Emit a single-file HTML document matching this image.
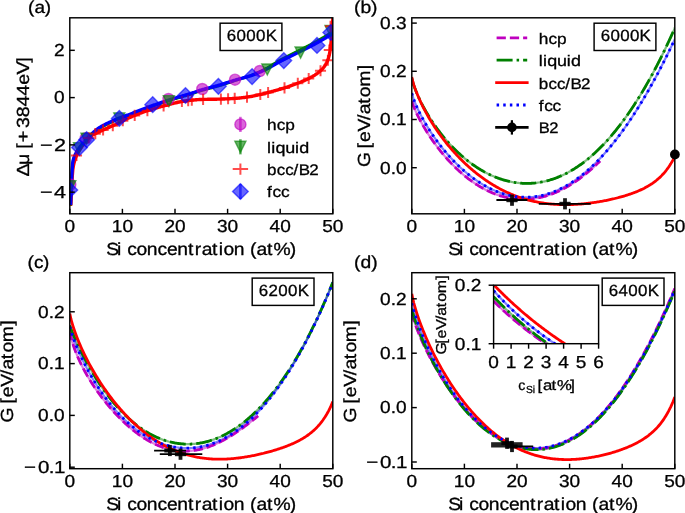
<!DOCTYPE html>
<html><head><meta charset="utf-8"><title>Figure</title>
<style>html,body{margin:0;padding:0;background:#fff;}body{width:685px;height:513px;overflow:hidden;}svg{display:block;will-change:transform;}text{font-family:"Liberation Sans",sans-serif;fill:#000;stroke:#000;stroke-width:0.3px;text-rendering:geometricPrecision;}</style>
</head><body>
<svg width="685" height="513" viewBox="0 0 685 513" font-family="Liberation Sans, sans-serif">
<rect width="685" height="513" fill="#fff"/>
<defs>
<clipPath id="clipA"><rect x="69.8" y="17.8" width="263.0" height="196.0"/></clipPath>
<clipPath id="clipB"><rect x="411.8" y="17.8" width="262.99999999999994" height="196.0"/></clipPath>
<clipPath id="clipC"><rect x="69.8" y="272.7" width="263.0" height="196.0"/></clipPath>
<clipPath id="clipD"><rect x="411.8" y="272.7" width="262.99999999999994" height="196.0"/></clipPath>
<clipPath id="clipI"><rect x="493.6" y="285.2" width="105.0" height="58.5"/></clipPath>
</defs>
<g clip-path="url(#clipA)">
<path d="M70.60,205.88 L71.26,189.48 L71.92,174.86 L72.58,164.47 L73.24,160.76 L73.89,158.54 L74.55,156.94 L75.21,155.44 L75.87,154.09 L76.53,152.89 L77.19,151.81 L77.85,150.80 L78.51,149.86 L79.17,148.93 L79.82,148.01 L80.48,147.13 L81.14,146.29 L81.80,145.48 L82.46,144.70 L83.12,143.93 L83.78,143.19 L84.44,142.46 L85.10,141.73 L85.75,141.00 L86.41,140.26 L87.07,139.52 L87.73,138.77 L88.39,138.03 L89.05,137.32 L89.71,136.64 L90.37,135.99 L91.03,135.35 L91.68,134.73 L92.34,134.11 L93.00,133.50 L93.66,132.91 L94.32,132.32 L94.98,131.76 L95.64,131.21 L96.30,130.67 L96.96,130.16 L97.61,129.66 L98.27,129.19 L98.93,128.74 L99.59,128.31 L100.25,127.90 L100.91,127.50 L101.57,127.11 L102.23,126.74 L102.89,126.37 L103.54,126.02 L104.20,125.67 L104.86,125.33 L105.52,125.00 L106.18,124.67 L106.84,124.34 L107.50,124.02 L108.16,123.69 L108.82,123.37 L109.47,123.06 L110.13,122.75 L110.79,122.44 L111.45,122.13 L112.11,121.83 L112.77,121.54 L113.43,121.25 L114.09,120.96 L114.75,120.67 L115.41,120.39 L116.06,120.11 L116.72,119.84 L117.38,119.57 L118.04,119.30 L118.70,119.03 L119.36,118.77 L120.02,118.52 L120.68,118.27 L121.34,118.03 L121.99,117.79 L122.65,117.55 L123.31,117.32 L123.97,117.10 L124.63,116.87 L125.29,116.64 L125.95,116.42 L126.61,116.19 L127.27,115.96 L127.92,115.72 L128.58,115.48 L129.24,115.24 L129.90,114.99 L130.56,114.73 L131.22,114.47 L131.88,114.21 L132.54,113.94 L133.20,113.68 L133.85,113.41 L134.51,113.14 L135.17,112.87 L135.83,112.61 L136.49,112.34 L137.15,112.08 L137.81,111.82 L138.47,111.56 L139.13,111.30 L139.78,111.05 L140.44,110.79 L141.10,110.54 L141.76,110.29 L142.42,110.04 L143.08,109.78 L143.74,109.53 L144.40,109.29 L145.06,109.04 L145.71,108.79 L146.37,108.54 L147.03,108.30 L147.69,108.05 L148.35,107.81 L149.01,107.57 L149.67,107.33 L150.33,107.08 L150.99,106.85 L151.64,106.61 L152.30,106.37 L152.96,106.13 L153.62,105.90 L154.28,105.66 L154.94,105.43 L155.60,105.20 L156.26,104.96 L156.92,104.73 L157.57,104.50 L158.23,104.27 L158.89,104.04 L159.55,103.81 L160.21,103.58 L160.87,103.35 L161.53,103.12 L162.19,102.90 L162.85,102.67 L163.50,102.44 L164.16,102.22 L164.82,102.00 L165.48,101.78 L166.14,101.56 L166.80,101.35 L167.46,101.14 L168.12,100.93 L168.78,100.72 L169.43,100.51 L170.09,100.30 L170.75,100.10 L171.41,99.90 L172.07,99.69 L172.73,99.49 L173.39,99.29 L174.05,99.09 L174.71,98.89 L175.36,98.69 L176.02,98.49 L176.68,98.29 L177.34,98.09 L178.00,97.90 L178.66,97.70 L179.32,97.51 L179.98,97.31 L180.64,97.12 L181.29,96.92 L181.95,96.73 L182.61,96.53 L183.27,96.34 L183.93,96.14 L184.59,95.95 L185.25,95.75 L185.91,95.56 L186.57,95.37 L187.22,95.17 L187.88,94.98 L188.54,94.78 L189.20,94.59 L189.86,94.39 L190.52,94.19 L191.18,93.99 L191.84,93.78 L192.50,93.57 L193.15,93.35 L193.81,93.12 L194.47,92.89 L195.13,92.66 L195.79,92.42 L196.45,92.18 L197.11,91.94 L197.77,91.70 L198.43,91.47 L199.08,91.25 L199.74,91.03 L200.40,90.83 L201.06,90.63 L201.72,90.43 L202.38,90.24 L203.04,90.05 L203.70,89.86 L204.36,89.68 L205.02,89.50 L205.67,89.32 L206.33,89.14 L206.99,88.97 L207.65,88.80 L208.31,88.63 L208.97,88.45 L209.63,88.28 L210.29,88.11 L210.95,87.94 L211.60,87.77 L212.26,87.60 L212.92,87.43 L213.58,87.25 L214.24,87.08 L214.90,86.90 L215.56,86.72 L216.22,86.54 L216.88,86.36 L217.53,86.17 L218.19,85.98 L218.85,85.79 L219.51,85.59 L220.17,85.39 L220.83,85.19 L221.49,84.98 L222.15,84.78 L222.81,84.57 L223.46,84.36 L224.12,84.15 L224.78,83.94 L225.44,83.72 L226.10,83.51 L226.76,83.30 L227.42,83.08 L228.08,82.87 L228.74,82.66 L229.39,82.45 L230.05,82.23 L230.71,82.00 L231.37,81.76 L232.03,81.53 L232.69,81.30 L233.35,81.07 L234.01,80.85 L234.67,80.62 L235.32,80.40 L235.98,80.19 L236.64,79.98 L237.30,79.77 L237.96,79.56 L238.62,79.36 L239.28,79.16 L239.94,78.96 L240.60,78.76 L241.25,78.56 L241.91,78.36 L242.57,78.16 L243.23,77.96 L243.89,77.76 L244.55,77.56 L245.21,77.36 L245.87,77.15 L246.53,76.94 L247.18,76.72 L247.84,76.51 L248.50,76.28 L249.16,76.06 L249.82,75.82 L250.48,75.59 L251.14,75.34 L251.80,75.09 L252.46,74.84 L253.11,74.57 L253.77,74.31 L254.43,74.04 L255.09,73.76 L255.75,73.48 L256.41,73.19 L257.07,72.90 L257.73,72.61 L258.39,72.31 L259.04,72.00 L259.70,71.70 L260.36,71.39 L261.02,71.07 L261.68,70.75 L262.34,70.43 L263.00,70.11 L263.66,69.78 L264.32,69.45 L264.97,69.11 L265.63,68.77 L266.29,68.42 L266.95,68.06 L267.61,67.70 L268.27,67.32 L268.93,66.94 L269.59,66.55 L270.25,66.16 L270.90,65.76 L271.56,65.36 L272.22,64.95 L272.88,64.55 L273.54,64.14 L274.20,63.73 L274.86,63.32 L275.52,62.91 L276.18,62.50 L276.83,62.10 L277.49,61.70 L278.15,61.30 L278.81,60.91 L279.47,60.52 L280.13,60.15 L280.79,59.79 L281.45,59.44 L282.11,59.10 L282.76,58.75 L283.42,58.41 L284.08,58.07 L284.74,57.73 L285.40,57.39 L286.06,57.05 L286.72,56.72 L287.38,56.38 L288.04,56.05 L288.69,55.72 L289.35,55.39 L290.01,55.06 L290.67,54.73 L291.33,54.40 L291.99,54.07 L292.65,53.73 L293.31,53.40 L293.97,53.07 L294.63,52.74 L295.28,52.40 L295.94,52.07 L296.60,51.73 L297.26,51.40 L297.92,51.07 L298.58,50.74 L299.24,50.40 L299.90,50.07 L300.56,49.75 L301.21,49.42 L301.87,49.09 L302.53,48.76 L303.19,48.43 L303.85,48.10 L304.51,47.77 L305.17,47.44 L305.83,47.10 L306.49,46.77 L307.14,46.43 L307.80,46.09 L308.46,45.75 L309.12,45.41 L309.78,45.06 L310.44,44.71 L311.10,44.36 L311.76,44.01 L312.42,43.65 L313.07,43.29 L313.73,42.93 L314.39,42.57 L315.05,42.20 L315.71,41.84 L316.37,41.47 L317.03,41.10 L317.69,40.73 L318.35,40.36 L319.00,39.99 L319.66,39.61 L320.32,39.24 L320.98,38.86 L321.64,38.48 L322.30,38.09 L322.96,37.71 L323.62,37.32 L324.28,36.93 L324.93,36.53 L325.59,36.14 L326.25,35.74 L326.91,35.34 L327.57,34.93 L328.23,34.52 L328.89,34.11 L329.55,33.70 L330.21,33.28 L330.86,32.86 L331.52,32.42 L332.18,31.97 L332.84,31.52 L333.50,31.07" fill="none" stroke="#008000" stroke-width="3.0"/>
<path d="M70.80,205.50 L71.46,190.83 L72.12,178.04 L72.77,169.84 L73.43,165.67 L74.09,162.71 L74.75,160.26 L75.40,158.23 L76.06,156.56 L76.72,155.10 L77.38,153.76 L78.03,152.54 L78.69,151.41 L79.35,150.36 L80.01,149.36 L80.66,148.40 L81.32,147.46 L81.98,146.53 L82.64,145.59 L83.30,144.65 L83.95,143.73 L84.61,142.82 L85.27,141.93 L85.93,141.07 L86.58,140.25 L87.24,139.47 L87.90,138.74 L88.56,138.06 L89.21,137.45 L89.87,136.90 L90.53,136.41 L91.19,135.96 L91.84,135.54 L92.50,135.14 L93.16,134.77 L93.82,134.42 L94.48,134.08 L95.13,133.75 L95.79,133.44 L96.45,133.13 L97.11,132.82 L97.76,132.51 L98.42,132.19 L99.08,131.86 L99.74,131.54 L100.39,131.22 L101.05,130.91 L101.71,130.61 L102.37,130.30 L103.02,130.01 L103.68,129.71 L104.34,129.41 L105.00,129.12 L105.66,128.83 L106.31,128.53 L106.97,128.24 L107.63,127.94 L108.29,127.65 L108.94,127.36 L109.60,127.07 L110.26,126.78 L110.92,126.50 L111.57,126.21 L112.23,125.93 L112.89,125.64 L113.55,125.35 L114.20,125.06 L114.86,124.77 L115.52,124.46 L116.18,124.16 L116.84,123.84 L117.49,123.52 L118.15,123.19 L118.81,122.86 L119.47,122.52 L120.12,122.18 L120.78,121.83 L121.44,121.49 L122.10,121.15 L122.75,120.81 L123.41,120.48 L124.07,120.15 L124.73,119.83 L125.38,119.52 L126.04,119.21 L126.70,118.91 L127.36,118.61 L128.02,118.31 L128.67,118.02 L129.33,117.72 L129.99,117.44 L130.65,117.15 L131.30,116.86 L131.96,116.58 L132.62,116.30 L133.28,116.02 L133.93,115.74 L134.59,115.47 L135.25,115.19 L135.91,114.91 L136.56,114.63 L137.22,114.36 L137.88,114.09 L138.54,113.82 L139.19,113.55 L139.85,113.29 L140.51,113.03 L141.17,112.79 L141.83,112.54 L142.48,112.31 L143.14,112.08 L143.80,111.86 L144.46,111.64 L145.11,111.44 L145.77,111.23 L146.43,111.03 L147.09,110.83 L147.74,110.63 L148.40,110.42 L149.06,110.22 L149.72,110.01 L150.37,109.80 L151.03,109.59 L151.69,109.39 L152.35,109.18 L153.01,108.97 L153.66,108.76 L154.32,108.56 L154.98,108.36 L155.64,108.15 L156.29,107.96 L156.95,107.76 L157.61,107.57 L158.27,107.38 L158.92,107.19 L159.58,107.01 L160.24,106.82 L160.90,106.64 L161.55,106.46 L162.21,106.28 L162.87,106.11 L163.53,105.93 L164.19,105.76 L164.84,105.58 L165.50,105.41 L166.16,105.24 L166.82,105.06 L167.47,104.89 L168.13,104.72 L168.79,104.54 L169.45,104.37 L170.10,104.20 L170.76,104.03 L171.42,103.86 L172.08,103.70 L172.73,103.54 L173.39,103.38 L174.05,103.22 L174.71,103.07 L175.37,102.92 L176.02,102.77 L176.68,102.62 L177.34,102.47 L178.00,102.33 L178.65,102.18 L179.31,102.04 L179.97,101.90 L180.63,101.77 L181.28,101.64 L181.94,101.52 L182.60,101.40 L183.26,101.29 L183.91,101.18 L184.57,101.08 L185.23,100.98 L185.89,100.89 L186.55,100.80 L187.20,100.71 L187.86,100.62 L188.52,100.54 L189.18,100.46 L189.83,100.38 L190.49,100.31 L191.15,100.24 L191.81,100.17 L192.46,100.10 L193.12,100.04 L193.78,99.97 L194.44,99.91 L195.09,99.85 L195.75,99.79 L196.41,99.73 L197.07,99.67 L197.73,99.62 L198.38,99.58 L199.04,99.54 L199.70,99.51 L200.36,99.49 L201.01,99.47 L201.67,99.45 L202.33,99.43 L202.99,99.41 L203.64,99.40 L204.30,99.38 L204.96,99.37 L205.62,99.36 L206.27,99.34 L206.93,99.33 L207.59,99.32 L208.25,99.31 L208.91,99.30 L209.56,99.29 L210.22,99.28 L210.88,99.28 L211.54,99.27 L212.19,99.26 L212.85,99.25 L213.51,99.24 L214.17,99.23 L214.82,99.22 L215.48,99.21 L216.14,99.20 L216.80,99.18 L217.45,99.17 L218.11,99.16 L218.77,99.14 L219.43,99.13 L220.09,99.11 L220.74,99.09 L221.40,99.07 L222.06,99.05 L222.72,99.03 L223.37,99.00 L224.03,98.98 L224.69,98.95 L225.35,98.92 L226.00,98.89 L226.66,98.86 L227.32,98.83 L227.98,98.80 L228.63,98.76 L229.29,98.73 L229.95,98.69 L230.61,98.66 L231.27,98.62 L231.92,98.58 L232.58,98.54 L233.24,98.50 L233.90,98.45 L234.55,98.41 L235.21,98.36 L235.87,98.32 L236.53,98.26 L237.18,98.21 L237.84,98.15 L238.50,98.09 L239.16,98.03 L239.81,97.96 L240.47,97.90 L241.13,97.83 L241.79,97.75 L242.45,97.68 L243.10,97.60 L243.76,97.52 L244.42,97.44 L245.08,97.36 L245.73,97.27 L246.39,97.18 L247.05,97.09 L247.71,97.00 L248.36,96.90 L249.02,96.80 L249.68,96.69 L250.34,96.58 L250.99,96.46 L251.65,96.34 L252.31,96.21 L252.97,96.08 L253.63,95.95 L254.28,95.82 L254.94,95.68 L255.60,95.54 L256.26,95.40 L256.91,95.25 L257.57,95.11 L258.23,94.96 L258.89,94.82 L259.54,94.67 L260.20,94.52 L260.86,94.37 L261.52,94.22 L262.17,94.06 L262.83,93.89 L263.49,93.73 L264.15,93.55 L264.81,93.38 L265.46,93.21 L266.12,93.03 L266.78,92.85 L267.44,92.68 L268.09,92.50 L268.75,92.33 L269.41,92.15 L270.07,91.98 L270.72,91.80 L271.38,91.63 L272.04,91.45 L272.70,91.28 L273.35,91.10 L274.01,90.92 L274.67,90.74 L275.33,90.56 L275.98,90.38 L276.64,90.20 L277.30,90.02 L277.96,89.84 L278.62,89.65 L279.27,89.46 L279.93,89.27 L280.59,89.08 L281.25,88.89 L281.90,88.69 L282.56,88.50 L283.22,88.30 L283.88,88.09 L284.53,87.89 L285.19,87.68 L285.85,87.47 L286.51,87.26 L287.16,87.04 L287.82,86.82 L288.48,86.60 L289.14,86.38 L289.80,86.15 L290.45,85.92 L291.11,85.69 L291.77,85.46 L292.43,85.22 L293.08,84.98 L293.74,84.74 L294.40,84.50 L295.06,84.25 L295.71,84.00 L296.37,83.75 L297.03,83.50 L297.69,83.24 L298.34,82.99 L299.00,82.73 L299.66,82.48 L300.32,82.22 L300.98,81.96 L301.63,81.70 L302.29,81.43 L302.95,81.16 L303.61,80.88 L304.26,80.60 L304.92,80.32 L305.58,80.02 L306.24,79.72 L306.89,79.41 L307.55,79.09 L308.21,78.75 L308.87,78.41 L309.52,78.07 L310.18,77.72 L310.84,77.36 L311.50,77.00 L312.16,76.64 L312.81,76.26 L313.47,75.87 L314.13,75.48 L314.79,75.07 L315.44,74.64 L316.10,74.20 L316.76,73.74 L317.42,73.27 L318.07,72.77 L318.73,72.25 L319.39,71.71 L320.05,71.14 L320.70,70.55 L321.36,69.93 L322.02,69.28 L322.68,68.57 L323.34,67.81 L323.99,66.96 L324.65,66.04 L325.31,65.03 L325.97,63.91 L326.62,62.68 L327.28,61.32 L327.94,59.70 L328.60,57.65 L329.25,55.10 L329.91,51.77 L330.57,46.95 L331.23,40.32 L331.88,30.85 L332.54,22.17 L333.20,14.00" fill="none" stroke="#ff0000" stroke-width="3.4" stroke-linejoin="round"/>
<path d="M70.60,205.00 L71.26,188.60 L71.92,173.98 L72.58,163.60 L73.24,159.89 L73.89,157.66 L74.55,156.07 L75.21,154.57 L75.87,153.22 L76.53,152.02 L77.19,150.94 L77.85,149.94 L78.51,148.99 L79.17,148.07 L79.82,147.15 L80.48,146.27 L81.14,145.43 L81.80,144.62 L82.46,143.83 L83.12,143.08 L83.78,142.33 L84.44,141.60 L85.10,140.87 L85.75,140.14 L86.41,139.41 L87.07,138.67 L87.73,137.92 L88.39,137.18 L89.05,136.47 L89.71,135.79 L90.37,135.14 L91.03,134.51 L91.68,133.88 L92.34,133.27 L93.00,132.66 L93.66,132.07 L94.32,131.49 L94.98,130.92 L95.64,130.37 L96.30,129.84 L96.96,129.32 L97.61,128.83 L98.27,128.36 L98.93,127.91 L99.59,127.48 L100.25,127.07 L100.91,126.67 L101.57,126.29 L102.23,125.91 L102.89,125.55 L103.54,125.20 L104.20,124.85 L104.86,124.51 L105.52,124.18 L106.18,123.85 L106.84,123.53 L107.50,123.20 L108.16,122.88 L108.82,122.56 L109.47,122.25 L110.13,121.93 L110.79,121.63 L111.45,121.33 L112.11,121.03 L112.77,120.73 L113.43,120.44 L114.09,120.15 L114.75,119.87 L115.41,119.59 L116.06,119.31 L116.72,119.04 L117.38,118.77 L118.04,118.50 L118.70,118.24 L119.36,117.98 L120.02,117.72 L120.68,117.48 L121.34,117.23 L121.99,117.00 L122.65,116.77 L123.31,116.54 L123.97,116.31 L124.63,116.08 L125.29,115.86 L125.95,115.63 L126.61,115.40 L127.27,115.17 L127.92,114.94 L128.58,114.70 L129.24,114.46 L129.90,114.21 L130.56,113.96 L131.22,113.70 L131.88,113.44 L132.54,113.17 L133.20,112.91 L133.85,112.64 L134.51,112.37 L135.17,112.11 L135.83,111.84 L136.49,111.57 L137.15,111.31 L137.81,111.05 L138.47,110.80 L139.13,110.54 L139.78,110.29 L140.44,110.04 L141.10,109.78 L141.76,109.53 L142.42,109.28 L143.08,109.03 L143.74,108.78 L144.40,108.53 L145.06,108.29 L145.71,108.04 L146.37,107.80 L147.03,107.55 L147.69,107.31 L148.35,107.07 L149.01,106.82 L149.67,106.58 L150.33,106.34 L150.99,106.11 L151.64,105.87 L152.30,105.63 L152.96,105.40 L153.62,105.16 L154.28,104.93 L154.94,104.70 L155.60,104.47 L156.26,104.23 L156.92,104.00 L157.57,103.77 L158.23,103.54 L158.89,103.31 L159.55,103.09 L160.21,102.86 L160.87,102.63 L161.53,102.40 L162.19,102.18 L162.85,101.95 L163.50,101.73 L164.16,101.51 L164.82,101.29 L165.48,101.07 L166.14,100.85 L166.80,100.64 L167.46,100.43 L168.12,100.22 L168.78,100.01 L169.43,99.80 L170.09,99.60 L170.75,99.39 L171.41,99.19 L172.07,98.99 L172.73,98.79 L173.39,98.59 L174.05,98.39 L174.71,98.19 L175.36,97.99 L176.02,97.79 L176.68,97.60 L177.34,97.40 L178.00,97.21 L178.66,97.01 L179.32,96.82 L179.98,96.62 L180.64,96.43 L181.29,96.24 L181.95,96.05 L182.61,95.85 L183.27,95.66 L183.93,95.46 L184.59,95.27 L185.25,95.07 L185.91,94.88 L186.57,94.69 L187.22,94.50 L187.88,94.30 L188.54,94.11 L189.20,93.92 L189.86,93.72 L190.52,93.52 L191.18,93.32 L191.84,93.11 L192.50,92.90 L193.15,92.68 L193.81,92.46 L194.47,92.23 L195.13,91.99 L195.79,91.76 L196.45,91.52 L197.11,91.28 L197.77,91.05 L198.43,90.82 L199.08,90.59 L199.74,90.38 L200.40,90.18 L201.06,89.98 L201.72,89.78 L202.38,89.59 L203.04,89.40 L203.70,89.22 L204.36,89.03 L205.02,88.86 L205.67,88.68 L206.33,88.50 L206.99,88.33 L207.65,88.16 L208.31,87.99 L208.97,87.82 L209.63,87.65 L210.29,87.48 L210.95,87.31 L211.60,87.14 L212.26,86.97 L212.92,86.80 L213.58,86.63 L214.24,86.45 L214.90,86.28 L215.56,86.10 L216.22,85.92 L216.88,85.73 L217.53,85.55 L218.19,85.36 L218.85,85.17 L219.51,84.97 L220.17,84.77 L220.83,84.57 L221.49,84.37 L222.15,84.16 L222.81,83.96 L223.46,83.75 L224.12,83.54 L224.78,83.33 L225.44,83.12 L226.10,82.90 L226.76,82.69 L227.42,82.48 L228.08,82.27 L228.74,82.06 L229.39,81.84 L230.05,81.63 L230.71,81.42 L231.37,81.22 L232.03,81.01 L232.69,80.81 L233.35,80.61 L234.01,80.41 L234.67,80.21 L235.32,80.02 L235.98,79.83 L236.64,79.64 L237.30,79.46 L237.96,79.28 L238.62,79.10 L239.28,78.93 L239.94,78.76 L240.60,78.58 L241.25,78.41 L241.91,78.24 L242.57,78.07 L243.23,77.89 L243.89,77.72 L244.55,77.54 L245.21,77.36 L245.87,77.18 L246.53,77.00 L247.18,76.81 L247.84,76.62 L248.50,76.42 L249.16,76.22 L249.82,76.02 L250.48,75.81 L251.14,75.59 L251.80,75.36 L252.46,75.13 L253.11,74.90 L253.77,74.66 L254.43,74.41 L255.09,74.16 L255.75,73.91 L256.41,73.65 L257.07,73.39 L257.73,73.12 L258.39,72.84 L259.04,72.57 L259.70,72.29 L260.36,72.00 L261.02,71.71 L261.68,71.42 L262.34,71.12 L263.00,70.83 L263.66,70.52 L264.32,70.22 L264.97,69.91 L265.63,69.60 L266.29,69.27 L266.95,68.94 L267.61,68.60 L268.27,68.25 L268.93,67.90 L269.59,67.53 L270.25,67.17 L270.90,66.80 L271.56,66.42 L272.22,66.04 L272.88,65.66 L273.54,65.28 L274.20,64.90 L274.86,64.51 L275.52,64.13 L276.18,63.75 L276.83,63.37 L277.49,63.00 L278.15,62.63 L278.81,62.26 L279.47,61.90 L280.13,61.55 L280.79,61.20 L281.45,60.86 L282.11,60.52 L282.76,60.18 L283.42,59.84 L284.08,59.51 L284.74,59.17 L285.40,58.84 L286.06,58.51 L286.72,58.19 L287.38,57.86 L288.04,57.53 L288.69,57.21 L289.35,56.88 L290.01,56.56 L290.67,56.23 L291.33,55.91 L291.99,55.59 L292.65,55.26 L293.31,54.94 L293.97,54.61 L294.63,54.28 L295.28,53.96 L295.94,53.63 L296.60,53.30 L297.26,52.97 L297.92,52.65 L298.58,52.32 L299.24,52.00 L299.90,51.67 L300.56,51.35 L301.21,51.03 L301.87,50.71 L302.53,50.38 L303.19,50.06 L303.85,49.74 L304.51,49.41 L305.17,49.09 L305.83,48.76 L306.49,48.43 L307.14,48.10 L307.80,47.77 L308.46,47.44 L309.12,47.10 L309.78,46.76 L310.44,46.42 L311.10,46.07 L311.76,45.72 L312.42,45.37 L313.07,45.02 L313.73,44.67 L314.39,44.31 L315.05,43.95 L315.71,43.60 L316.37,43.24 L317.03,42.87 L317.69,42.51 L318.35,42.15 L319.00,41.78 L319.66,41.41 L320.32,41.04 L320.98,40.67 L321.64,40.29 L322.30,39.92 L322.96,39.54 L323.62,39.15 L324.28,38.77 L324.93,38.38 L325.59,37.99 L326.25,37.60 L326.91,37.20 L327.57,36.81 L328.23,36.41 L328.89,36.00 L329.55,35.59 L330.21,35.18 L330.86,34.77 L331.52,34.34 L332.18,33.90 L332.84,33.45 L333.50,33.00" fill="none" stroke="#0000ff" stroke-width="3.3" stroke-linejoin="round"/>
<circle cx="70.3" cy="184.5" r="5.55" fill="#bf00bf" fill-opacity="0.6" stroke="#bf00bf" stroke-opacity="0.6" stroke-width="1.39"/>
<circle cx="85.7" cy="138.2" r="5.55" fill="#bf00bf" fill-opacity="0.6" stroke="#bf00bf" stroke-opacity="0.6" stroke-width="1.39"/>
<circle cx="168.5" cy="99.0" r="5.55" fill="#bf00bf" fill-opacity="0.6" stroke="#bf00bf" stroke-opacity="0.6" stroke-width="1.39"/>
<circle cx="202.3" cy="89.0" r="5.55" fill="#bf00bf" fill-opacity="0.6" stroke="#bf00bf" stroke-opacity="0.6" stroke-width="1.39"/>
<circle cx="235.0" cy="79.7" r="5.55" fill="#bf00bf" fill-opacity="0.6" stroke="#bf00bf" stroke-opacity="0.6" stroke-width="1.39"/>
<circle cx="259.8" cy="71.0" r="5.55" fill="#bf00bf" fill-opacity="0.6" stroke="#bf00bf" stroke-opacity="0.6" stroke-width="1.39"/>
<path d="M64.75,180.64L75.85,180.64L70.30,191.75Z" fill="#008000" fill-opacity="0.6" stroke="#008000" stroke-opacity="0.6" stroke-width="1.39"/>
<path d="M73.44,142.64L84.56,142.64L79.00,153.75Z" fill="#008000" fill-opacity="0.6" stroke="#008000" stroke-opacity="0.6" stroke-width="1.39"/>
<path d="M80.94,133.25L92.06,133.25L86.50,144.36Z" fill="#008000" fill-opacity="0.6" stroke="#008000" stroke-opacity="0.6" stroke-width="1.39"/>
<path d="M113.75,112.84L124.85,112.84L119.30,123.96Z" fill="#008000" fill-opacity="0.6" stroke="#008000" stroke-opacity="0.6" stroke-width="1.39"/>
<path d="M163.34,95.65L174.46,95.65L168.90,106.75Z" fill="#008000" fill-opacity="0.6" stroke="#008000" stroke-opacity="0.6" stroke-width="1.39"/>
<path d="M261.75,63.95L272.86,63.95L267.30,75.06Z" fill="#008000" fill-opacity="0.6" stroke="#008000" stroke-opacity="0.6" stroke-width="1.39"/>
<path d="M295.05,47.05L306.16,47.05L300.60,58.16Z" fill="#008000" fill-opacity="0.6" stroke="#008000" stroke-opacity="0.6" stroke-width="1.39"/>
<path d="M324.94,25.45L336.06,25.45L330.50,36.55Z" fill="#008000" fill-opacity="0.6" stroke="#008000" stroke-opacity="0.6" stroke-width="1.39"/>
<path d="M70.94,155.57h11.11M76.50,150.01v11.11" stroke="#ff0000" stroke-opacity="0.7" stroke-width="2.0"/>
<path d="M83.15,137.92h11.11M88.70,132.37v11.11" stroke="#ff0000" stroke-opacity="0.7" stroke-width="2.0"/>
<path d="M89.75,133.67h11.11M95.30,128.12v11.11" stroke="#ff0000" stroke-opacity="0.7" stroke-width="2.0"/>
<path d="M97.54,129.97h11.11M103.10,124.42v11.11" stroke="#ff0000" stroke-opacity="0.7" stroke-width="2.0"/>
<path d="M107.25,125.68h11.11M112.80,120.13v11.11" stroke="#ff0000" stroke-opacity="0.7" stroke-width="2.0"/>
<path d="M117.25,120.79h11.11M122.80,115.23v11.11" stroke="#ff0000" stroke-opacity="0.7" stroke-width="2.0"/>
<path d="M129.14,115.42h11.11M134.70,109.86v11.11" stroke="#ff0000" stroke-opacity="0.7" stroke-width="2.0"/>
<path d="M141.84,110.73h11.11M147.40,105.18v11.11" stroke="#ff0000" stroke-opacity="0.7" stroke-width="2.0"/>
<path d="M158.04,105.91h11.11M163.60,100.36v11.11" stroke="#ff0000" stroke-opacity="0.7" stroke-width="2.0"/>
<path d="M176.34,101.53h11.11M181.90,95.97v11.11" stroke="#ff0000" stroke-opacity="0.7" stroke-width="2.0"/>
<path d="M182.64,100.58h11.11M188.20,95.02v11.11" stroke="#ff0000" stroke-opacity="0.7" stroke-width="2.0"/>
<path d="M186.25,100.17h11.11M191.80,94.61v11.11" stroke="#ff0000" stroke-opacity="0.7" stroke-width="2.0"/>
<path d="M197.54,99.41h11.11M203.10,93.85v11.11" stroke="#ff0000" stroke-opacity="0.7" stroke-width="2.0"/>
<path d="M215.34,99.09h11.11M220.90,93.53v11.11" stroke="#ff0000" stroke-opacity="0.7" stroke-width="2.0"/>
<path d="M222.54,98.79h11.11M228.10,93.24v11.11" stroke="#ff0000" stroke-opacity="0.7" stroke-width="2.0"/>
<path d="M229.14,98.40h11.11M234.70,92.84v11.11" stroke="#ff0000" stroke-opacity="0.7" stroke-width="2.0"/>
<path d="M241.44,97.10h11.11M247.00,91.54v11.11" stroke="#ff0000" stroke-opacity="0.7" stroke-width="2.0"/>
<path d="M254.75,94.50h11.11M260.30,88.94v11.11" stroke="#ff0000" stroke-opacity="0.7" stroke-width="2.0"/>
<path d="M262.55,92.50h11.11M268.10,86.94v11.11" stroke="#ff0000" stroke-opacity="0.7" stroke-width="2.0"/>
<path d="M278.94,87.90h11.11M284.50,82.34v11.11" stroke="#ff0000" stroke-opacity="0.7" stroke-width="2.0"/>
<path d="M292.25,83.20h11.11M297.80,77.65v11.11" stroke="#ff0000" stroke-opacity="0.7" stroke-width="2.0"/>
<path d="M303.14,78.50h11.11M308.70,72.94v11.11" stroke="#ff0000" stroke-opacity="0.7" stroke-width="2.0"/>
<path d="M314.94,70.74h11.11M320.50,65.18v11.11" stroke="#ff0000" stroke-opacity="0.7" stroke-width="2.0"/>
<path d="M322.34,60.30h11.11M327.90,54.74v11.11" stroke="#ff0000" stroke-opacity="0.7" stroke-width="2.0"/>
<path d="M323.75,50.10h11.11M329.30,44.55v11.11" stroke="#ff0000" stroke-opacity="0.7" stroke-width="2.0"/>
<path d="M324.94,26.30h11.11M330.50,20.75v11.11" stroke="#ff0000" stroke-opacity="0.7" stroke-width="2.0"/>
<path d="M69.80,182.14L77.66,190.00L69.80,197.86L61.94,190.00Z" fill="#0000ff" fill-opacity="0.6" stroke="#0000ff" stroke-opacity="0.6" stroke-width="1.39"/>
<path d="M79.50,139.74L87.36,147.60L79.50,155.46L71.64,147.60Z" fill="#0000ff" fill-opacity="0.6" stroke="#0000ff" stroke-opacity="0.6" stroke-width="1.39"/>
<path d="M86.60,131.84L94.46,139.70L86.60,147.56L78.74,139.70Z" fill="#0000ff" fill-opacity="0.6" stroke="#0000ff" stroke-opacity="0.6" stroke-width="1.39"/>
<path d="M119.30,110.54L127.16,118.40L119.30,126.26L111.44,118.40Z" fill="#0000ff" fill-opacity="0.6" stroke="#0000ff" stroke-opacity="0.6" stroke-width="1.39"/>
<path d="M152.70,96.84L160.56,104.70L152.70,112.56L144.84,104.70Z" fill="#0000ff" fill-opacity="0.6" stroke="#0000ff" stroke-opacity="0.6" stroke-width="1.39"/>
<path d="M185.50,87.64L193.36,95.50L185.50,103.36L177.64,95.50Z" fill="#0000ff" fill-opacity="0.6" stroke="#0000ff" stroke-opacity="0.6" stroke-width="1.39"/>
<path d="M218.40,78.44L226.26,86.30L218.40,94.16L210.54,86.30Z" fill="#0000ff" fill-opacity="0.6" stroke="#0000ff" stroke-opacity="0.6" stroke-width="1.39"/>
<path d="M252.10,68.74L259.96,76.60L252.10,84.46L244.24,76.60Z" fill="#0000ff" fill-opacity="0.6" stroke="#0000ff" stroke-opacity="0.6" stroke-width="1.39"/>
<path d="M283.80,52.74L291.66,60.60L283.80,68.46L275.94,60.60Z" fill="#0000ff" fill-opacity="0.6" stroke="#0000ff" stroke-opacity="0.6" stroke-width="1.39"/>
<path d="M317.00,37.54L324.86,45.40L317.00,53.26L309.14,45.40Z" fill="#0000ff" fill-opacity="0.6" stroke="#0000ff" stroke-opacity="0.6" stroke-width="1.39"/>
<path d="M330.80,24.64L338.66,32.50L330.80,40.36L322.94,32.50Z" fill="#0000ff" fill-opacity="0.6" stroke="#0000ff" stroke-opacity="0.6" stroke-width="1.39"/>
</g>
<rect x="69.8" y="17.8" width="263.00" height="196.00" fill="none" stroke="#000" stroke-width="1.45"/>
<line x1="69.80" y1="213.8" x2="69.80" y2="208.80" stroke="#000" stroke-width="1.45"/>
<text transform="scale(1.0958,1)" x="58.86" y="232.30" font-size="17.40">0</text>
<line x1="122.40" y1="213.8" x2="122.40" y2="208.80" stroke="#000" stroke-width="1.45"/>
<text transform="scale(1.0958,1)" x="102.02 111.70" y="232.30" font-size="17.40">10</text>
<line x1="175.00" y1="213.8" x2="175.00" y2="208.80" stroke="#000" stroke-width="1.45"/>
<text transform="scale(1.0958,1)" x="150.03 159.70" y="232.30" font-size="17.40">20</text>
<line x1="227.60" y1="213.8" x2="227.60" y2="208.80" stroke="#000" stroke-width="1.45"/>
<text transform="scale(1.0958,1)" x="198.03 207.71" y="232.30" font-size="17.40">30</text>
<line x1="280.20" y1="213.8" x2="280.20" y2="208.80" stroke="#000" stroke-width="1.45"/>
<text transform="scale(1.0958,1)" x="246.03 255.71" y="232.30" font-size="17.40">40</text>
<line x1="332.80" y1="213.8" x2="332.80" y2="208.80" stroke="#000" stroke-width="1.45"/>
<text transform="scale(1.0958,1)" x="294.03 303.71" y="232.30" font-size="17.40">50</text>
<line x1="69.8" y1="192.16" x2="74.80" y2="192.16" stroke="#000" stroke-width="1.45"/>
<text transform="scale(1.2384,1)" x="32.32 43.60" y="197.96" font-size="17.40">−4</text>
<line x1="69.8" y1="144.88" x2="74.80" y2="144.88" stroke="#000" stroke-width="1.45"/>
<text transform="scale(1.2384,1)" x="32.32 43.60" y="150.68" font-size="17.40">−2</text>
<line x1="69.8" y1="97.60" x2="74.80" y2="97.60" stroke="#000" stroke-width="1.45"/>
<text transform="scale(1.0958,1)" x="49.27" y="103.40" font-size="17.40">0</text>
<line x1="69.8" y1="50.32" x2="74.80" y2="50.32" stroke="#000" stroke-width="1.45"/>
<text transform="scale(1.0958,1)" x="49.27" y="56.12" font-size="17.40">2</text>
<circle cx="240.4" cy="124.4" r="5.55" fill="#bf00bf" fill-opacity="0.6" stroke="#bf00bf" stroke-opacity="0.6" stroke-width="1.39"/>
<line x1="240.4" y1="116.80" x2="240.4" y2="132.00" stroke="#bf00bf" stroke-opacity="0.6" stroke-width="2.6"/>
<path d="M234.84,141.25L245.96,141.25L240.40,152.36Z" fill="#008000" fill-opacity="0.6" stroke="#008000" stroke-opacity="0.6" stroke-width="1.39"/>
<line x1="240.4" y1="139.20000000000002" x2="240.4" y2="154.4" stroke="#008000" stroke-opacity="0.6" stroke-width="2.6"/>
<path d="M232.70,169.10h15.40M240.40,163.54v11.11" stroke="#ff0000" stroke-opacity="0.7" stroke-width="2.0"/>
<path d="M240.40,183.64L248.26,191.50L240.40,199.36L232.54,191.50Z" fill="#0000ff" fill-opacity="0.6" stroke="#0000ff" stroke-opacity="0.6" stroke-width="1.39"/>
<line x1="240.4" y1="183.9" x2="240.4" y2="199.1" stroke="#0000ff" stroke-opacity="0.6" stroke-width="2.6"/>
<text transform="scale(1.1278,1)" x="236.83 245.43 252.89" y="130.20" font-size="15.30">hcp</text>
<text transform="scale(1.1721,1)" x="227.88 231.51 235.14 243.42 251.70 255.32" y="152.60" font-size="15.30">liquid</text>
<text transform="scale(1.1100,1)" x="240.62 249.37 256.95 264.53 269.17 278.62" y="174.90" font-size="15.30">bcc/B2</text>
<text transform="scale(1.1360,1)" x="235.11 239.85 247.26" y="197.30" font-size="15.30">fcc</text>
<g clip-path="url(#clipB)">
<path d="M411.80,101.10 L412.53,103.50 L413.25,105.49 L413.98,107.33 L414.71,109.06 L415.44,110.72 L416.16,112.31 L416.89,113.85 L417.62,115.35 L418.34,116.81 L419.07,118.23 L419.80,119.62 L420.52,120.98 L421.25,122.32 L421.98,123.63 L422.71,124.91 L423.43,126.17 L424.16,127.41 L424.89,128.63 L425.61,129.83 L426.34,131.01 L427.07,132.17 L427.80,133.32 L428.52,134.45 L429.25,135.56 L429.98,136.66 L430.70,137.74 L431.43,138.81 L432.16,139.86 L432.88,140.90 L433.61,141.93 L434.34,142.94 L435.07,143.95 L435.79,144.93 L436.52,145.91 L437.25,146.87 L437.97,147.82 L438.70,148.76 L439.43,149.69 L440.16,150.61 L440.88,151.52 L441.61,152.41 L442.34,153.30 L443.06,154.17 L443.79,155.03 L444.52,155.88 L445.24,156.73 L445.97,157.56 L446.70,158.38 L447.43,159.20 L448.15,160.00 L448.88,160.79 L449.61,161.58 L450.33,162.35 L451.06,163.11 L451.79,163.87 L452.52,164.62 L453.24,165.35 L453.97,166.08 L454.70,166.80 L455.42,167.51 L456.15,168.21 L456.88,168.91 L457.60,169.59 L458.33,170.26 L459.06,170.93 L459.79,171.59 L460.51,172.24 L461.24,172.88 L461.97,173.51 L462.69,174.14 L463.42,174.75 L464.15,175.36 L464.88,175.96 L465.60,176.55 L466.33,177.13 L467.06,177.71 L467.78,178.28 L468.51,178.84 L469.24,179.39 L469.96,179.93 L470.69,180.46 L471.42,180.99 L472.15,181.51 L472.87,182.02 L473.60,182.52 L474.33,183.02 L475.05,183.51 L475.78,183.99 L476.51,184.46 L477.24,184.93 L477.96,185.38 L478.69,185.83 L479.42,186.27 L480.14,186.71 L480.87,187.13 L481.60,187.55 L482.32,187.97 L483.05,188.37 L483.78,188.77 L484.51,189.15 L485.23,189.54 L485.96,189.91 L486.69,190.28 L487.41,190.63 L488.14,190.99 L488.87,191.33 L489.60,191.67 L490.32,192.00 L491.05,192.32 L491.78,192.63 L492.50,192.94 L493.23,193.24 L493.96,193.53 L494.68,193.82 L495.41,194.10 L496.14,194.37 L496.87,194.63 L497.59,194.89 L498.32,195.14 L499.05,195.38 L499.77,195.61 L500.50,195.84 L501.23,196.06 L501.96,196.27 L502.68,196.48 L503.41,196.68 L504.14,196.87 L504.86,197.05 L505.59,197.23 L506.32,197.40 L507.04,197.56 L507.77,197.71 L508.50,197.86 L509.23,198.00 L509.95,198.14 L510.68,198.26 L511.41,198.38 L512.13,198.50 L512.86,198.60 L513.59,198.70 L514.32,198.79 L515.04,198.88 L515.77,198.95 L516.50,199.02 L517.22,199.09 L517.95,199.14 L518.68,199.19 L519.40,199.23 L520.13,199.27 L520.86,199.30 L521.59,199.32 L522.31,199.33 L523.04,199.34 L523.77,199.34 L524.49,199.33 L525.22,199.31 L525.95,199.29 L526.68,199.26 L527.40,199.23 L528.13,199.19 L528.86,199.14 L529.58,199.08 L530.31,199.02 L531.04,198.95 L531.76,198.87 L532.49,198.78 L533.22,198.69 L533.95,198.59 L534.67,198.49 L535.40,198.38 L536.13,198.26 L536.85,198.13 L537.58,198.00 L538.31,197.86 L539.04,197.71 L539.76,197.56 L540.49,197.40 L541.22,197.23 L541.94,197.05 L542.67,196.87 L543.40,196.68 L544.12,196.49 L544.85,196.28 L545.58,196.08 L546.31,195.86 L547.03,195.64 L547.76,195.41 L548.49,195.17 L549.21,194.93 L549.94,194.67 L550.67,194.42 L551.40,194.15 L552.12,193.88 L552.85,193.60 L553.58,193.32 L554.30,193.03 L555.03,192.73 L555.76,192.42 L556.48,192.11 L557.21,191.79 L557.94,191.46 L558.67,191.13 L559.39,190.79 L560.12,190.44 L560.85,190.09 L561.57,189.73 L562.30,189.36 L563.03,188.99 L563.76,188.61 L564.48,188.22 L565.21,187.82 L565.94,187.42 L566.66,187.01 L567.39,186.60 L568.12,186.18 L568.84,185.75 L569.57,185.31 L570.30,184.87 L571.03,184.42 L571.75,183.97 L572.48,183.50 L573.21,183.03 L573.93,182.56 L574.66,182.07 L575.39,181.58 L576.12,181.09 L576.84,180.59 L577.57,180.08 L578.30,179.56 L579.02,179.04 L579.75,178.51 L580.48,177.97 L581.20,177.43 L581.93,176.87 L582.66,176.32 L583.39,175.75 L584.11,175.18 L584.84,174.61 L585.57,174.02 L586.29,173.43 L587.02,172.84 L587.75,172.23 L588.48,171.62 L589.20,171.00 L589.93,170.38 L590.66,169.75 L591.38,169.11 L592.11,168.47 L592.84,167.82 L593.56,167.16 L594.29,166.50 L595.02,165.83 L595.75,165.15 L596.47,164.47 L597.20,163.78 L597.93,163.08 L598.65,162.38 L599.38,161.67 L600.11,160.95" fill="none" stroke="#bf00bf" stroke-width="2.2" stroke-opacity="0.5"/>
<path d="M411.80,78.40 L412.82,82.32 L413.83,85.44 L414.85,88.25 L415.86,90.85 L416.88,93.31 L417.89,95.65 L418.91,97.88 L419.92,100.03 L420.94,102.11 L421.95,104.11 L422.97,106.06 L423.99,107.94 L425.00,109.78 L426.02,111.57 L427.03,113.31 L428.05,115.01 L429.06,116.67 L430.08,118.29 L431.09,119.88 L432.11,121.43 L433.12,122.95 L434.14,124.44 L435.16,125.90 L436.17,127.33 L437.19,128.74 L438.20,130.11 L439.22,131.46 L440.23,132.78 L441.25,134.08 L442.26,135.36 L443.28,136.61 L444.29,137.84 L445.31,139.04 L446.33,140.23 L447.34,141.39 L448.36,142.54 L449.37,143.66 L450.39,144.76 L451.40,145.84 L452.42,146.91 L453.43,147.95 L454.45,148.98 L455.46,149.99 L456.48,150.98 L457.49,151.95 L458.51,152.90 L459.53,153.84 L460.54,154.76 L461.56,155.67 L462.57,156.55 L463.59,157.42 L464.60,158.28 L465.62,159.11 L466.63,159.94 L467.65,160.74 L468.66,161.53 L469.68,162.31 L470.70,163.07 L471.71,163.81 L472.73,164.54 L473.74,165.26 L474.76,165.96 L475.77,166.64 L476.79,167.31 L477.80,167.97 L478.82,168.61 L479.83,169.24 L480.85,169.85 L481.87,170.45 L482.88,171.03 L483.90,171.60 L484.91,172.16 L485.93,172.70 L486.94,173.23 L487.96,173.74 L488.97,174.24 L489.99,174.73 L491.00,175.20 L492.02,175.66 L493.04,176.11 L494.05,176.54 L495.07,176.96 L496.08,177.37 L497.10,177.76 L498.11,178.14 L499.13,178.51 L500.14,178.86 L501.16,179.20 L502.17,179.52 L503.19,179.84 L504.21,180.14 L505.22,180.42 L506.24,180.69 L507.25,180.95 L508.27,181.20 L509.28,181.44 L510.30,181.66 L511.31,181.86 L512.33,182.06 L513.34,182.24 L514.36,182.41 L515.38,182.56 L516.39,182.70 L517.41,182.83 L518.42,182.95 L519.44,183.05 L520.45,183.14 L521.47,183.22 L522.48,183.28 L523.50,183.33 L524.51,183.37 L525.53,183.39 L526.55,183.41 L527.56,183.40 L528.58,183.39 L529.59,183.36 L530.61,183.32 L531.62,183.26 L532.64,183.20 L533.65,183.12 L534.67,183.02 L535.68,182.92 L536.70,182.79 L537.72,182.66 L538.73,182.51 L539.75,182.35 L540.76,182.18 L541.78,181.99 L542.79,181.79 L543.81,181.58 L544.82,181.35 L545.84,181.11 L546.85,180.86 L547.87,180.59 L548.88,180.31 L549.90,180.02 L550.92,179.71 L551.93,179.39 L552.95,179.05 L553.96,178.70 L554.98,178.34 L555.99,177.96 L557.01,177.58 L558.02,177.17 L559.04,176.75 L560.05,176.32 L561.07,175.88 L562.09,175.42 L563.10,174.95 L564.12,174.46 L565.13,173.96 L566.15,173.45 L567.16,172.92 L568.18,172.38 L569.19,171.82 L570.21,171.25 L571.22,170.66 L572.24,170.06 L573.26,169.45 L574.27,168.82 L575.29,168.18 L576.30,167.52 L577.32,166.85 L578.33,166.17 L579.35,165.47 L580.36,164.75 L581.38,164.02 L582.39,163.28 L583.41,162.52 L584.43,161.75 L585.44,160.96 L586.46,160.16 L587.47,159.34 L588.49,158.51 L589.50,157.66 L590.52,156.80 L591.53,155.93 L592.55,155.03 L593.56,154.13 L594.58,153.20 L595.60,152.27 L596.61,151.31 L597.63,150.35 L598.64,149.36 L599.66,148.36 L600.67,147.35 L601.69,146.32 L602.70,145.28 L603.72,144.22 L604.73,143.14 L605.75,142.05 L606.77,140.94 L607.78,139.82 L608.80,138.68 L609.81,137.52 L610.83,136.35 L611.84,135.16 L612.86,133.96 L613.87,132.74 L614.89,131.51 L615.90,130.26 L616.92,128.99 L617.94,127.70 L618.95,126.40 L619.97,125.09 L620.98,123.75 L622.00,122.40 L623.01,121.04 L624.03,119.66 L625.04,118.26 L626.06,116.84 L627.07,115.41 L628.09,113.96 L629.11,112.49 L630.12,111.01 L631.14,109.51 L632.15,107.99 L633.17,106.45 L634.18,104.90 L635.20,103.33 L636.21,101.75 L637.23,100.14 L638.24,98.52 L639.26,96.88 L640.27,95.23 L641.29,93.55 L642.31,91.86 L643.32,90.15 L644.34,88.43 L645.35,86.68 L646.37,84.92 L647.38,83.14 L648.40,81.34 L649.41,79.52 L650.43,77.69 L651.44,75.84 L652.46,73.97 L653.48,72.08 L654.49,70.17 L655.51,68.24 L656.52,66.30 L657.54,64.33 L658.55,62.35 L659.57,60.35 L660.58,58.33 L661.60,56.29 L662.61,54.24 L663.63,52.16 L664.65,50.06 L665.66,47.95 L666.68,45.82 L667.69,43.67 L668.71,41.49 L669.72,39.30 L670.74,37.09 L671.75,34.86 L672.77,32.61 L673.78,30.34 L674.80,28.05" fill="none" stroke="#008000" stroke-width="2.2" stroke-opacity="0.5"/>
<path d="M411.80,93.13 L412.82,96.73 L413.83,99.62 L414.85,102.25 L415.86,104.69 L416.88,107.01 L417.89,109.22 L418.91,111.34 L419.92,113.39 L420.94,115.37 L421.95,117.29 L422.97,119.16 L423.99,120.98 L425.00,122.75 L426.02,124.48 L427.03,126.18 L428.05,127.83 L429.06,129.45 L430.08,131.04 L431.09,132.60 L432.11,134.12 L433.12,135.62 L434.14,137.09 L435.16,138.53 L436.17,139.95 L437.19,141.34 L438.20,142.71 L439.22,144.06 L440.23,145.38 L441.25,146.68 L442.26,147.95 L443.28,149.21 L444.29,150.45 L445.31,151.66 L446.33,152.86 L447.34,154.03 L448.36,155.19 L449.37,156.33 L450.39,157.45 L451.40,158.55 L452.42,159.63 L453.43,160.70 L454.45,161.75 L455.46,162.78 L456.48,163.79 L457.49,164.79 L458.51,165.77 L459.53,166.73 L460.54,167.68 L461.56,168.61 L462.57,169.52 L463.59,170.42 L464.60,171.30 L465.62,172.17 L466.63,173.02 L467.65,173.85 L468.66,174.67 L469.68,175.48 L470.70,176.27 L471.71,177.04 L472.73,177.80 L473.74,178.54 L474.76,179.27 L475.77,179.99 L476.79,180.69 L477.80,181.37 L478.82,182.04 L479.83,182.69 L480.85,183.33 L481.87,183.96 L482.88,184.57 L483.90,185.17 L484.91,185.75 L485.93,186.32 L486.94,186.87 L487.96,187.41 L488.97,187.93 L489.99,188.44 L491.00,188.94 L492.02,189.42 L493.04,189.88 L494.05,190.34 L495.07,190.77 L496.08,191.20 L497.10,191.61 L498.11,192.00 L499.13,192.38 L500.14,192.75 L501.16,193.10 L502.17,193.44 L503.19,193.77 L504.21,194.08 L505.22,194.37 L506.24,194.65 L507.25,194.92 L508.27,195.17 L509.28,195.41 L510.30,195.64 L511.31,195.85 L512.33,196.04 L513.34,196.23 L514.36,196.39 L515.38,196.55 L516.39,196.69 L517.41,196.81 L518.42,196.92 L519.44,197.02 L520.45,197.10 L521.47,197.17 L522.48,197.22 L523.50,197.26 L524.51,197.29 L525.53,197.30 L526.55,197.30 L527.56,197.28 L528.58,197.25 L529.59,197.20 L530.61,197.14 L531.62,197.07 L532.64,196.98 L533.65,196.87 L534.67,196.76 L535.68,196.62 L536.70,196.48 L537.72,196.32 L538.73,196.14 L539.75,195.95 L540.76,195.75 L541.78,195.53 L542.79,195.29 L543.81,195.05 L544.82,194.78 L545.84,194.51 L546.85,194.22 L547.87,193.91 L548.88,193.59 L549.90,193.26 L550.92,192.91 L551.93,192.54 L552.95,192.16 L553.96,191.77 L554.98,191.36 L555.99,190.94 L557.01,190.50 L558.02,190.05 L559.04,189.58 L560.05,189.10 L561.07,188.61 L562.09,188.10 L563.10,187.57 L564.12,187.03 L565.13,186.48 L566.15,185.91 L567.16,185.33 L568.18,184.73 L569.19,184.11 L570.21,183.49 L571.22,182.84 L572.24,182.18 L573.26,181.51 L574.27,180.82 L575.29,180.12 L576.30,179.41 L577.32,178.67 L578.33,177.93 L579.35,177.17 L580.36,176.39 L581.38,175.60 L582.39,174.79 L583.41,173.97 L584.43,173.14 L585.44,172.29 L586.46,171.42 L587.47,170.54 L588.49,169.65 L589.50,168.74 L590.52,167.81 L591.53,166.87 L592.55,165.92 L593.56,164.95 L594.58,163.96 L595.60,162.96 L596.61,161.95 L597.63,160.92 L598.64,159.87 L599.66,158.81 L600.67,157.74 L601.69,156.65 L602.70,155.55 L603.72,154.43 L604.73,153.29 L605.75,152.14 L606.77,150.98 L607.78,149.80 L608.80,148.61 L609.81,147.40 L610.83,146.18 L611.84,144.94 L612.86,143.68 L613.87,142.42 L614.89,141.13 L615.90,139.83 L616.92,138.52 L617.94,137.19 L618.95,135.85 L619.97,134.49 L620.98,133.12 L622.00,131.73 L623.01,130.33 L624.03,128.91 L625.04,127.48 L626.06,126.03 L627.07,124.57 L628.09,123.09 L629.11,121.60 L630.12,120.09 L631.14,118.57 L632.15,117.03 L633.17,115.48 L634.18,113.91 L635.20,112.33 L636.21,110.73 L637.23,109.12 L638.24,107.50 L639.26,105.86 L640.27,104.20 L641.29,102.53 L642.31,100.85 L643.32,99.15 L644.34,97.43 L645.35,95.70 L646.37,93.96 L647.38,92.20 L648.40,90.43 L649.41,88.64 L650.43,86.84 L651.44,85.02 L652.46,83.19 L653.48,81.34 L654.49,79.48 L655.51,77.61 L656.52,75.72 L657.54,73.81 L658.55,71.89 L659.57,69.96 L660.58,68.01 L661.60,66.05 L662.61,64.07 L663.63,62.08 L664.65,60.07 L665.66,58.05 L666.68,56.02 L667.69,53.97 L668.71,51.90 L669.72,49.83 L670.74,47.73 L671.75,45.63 L672.77,43.51 L673.78,41.37 L674.80,39.22" fill="none" stroke="#0000ff" stroke-width="2.2" stroke-opacity="0.5"/>
<path d="M411.80,101.10 L412.53,103.50 L413.25,105.49 L413.98,107.33 L414.71,109.06 L415.44,110.72 L416.16,112.31 L416.89,113.85 L417.62,115.35 L418.34,116.81 L419.07,118.23 L419.80,119.62 L420.52,120.98 L421.25,122.32 L421.98,123.63 L422.71,124.91 L423.43,126.17 L424.16,127.41 L424.89,128.63 L425.61,129.83 L426.34,131.01 L427.07,132.17 L427.80,133.32 L428.52,134.45 L429.25,135.56 L429.98,136.66 L430.70,137.74 L431.43,138.81 L432.16,139.86 L432.88,140.90 L433.61,141.93 L434.34,142.94 L435.07,143.95 L435.79,144.93 L436.52,145.91 L437.25,146.87 L437.97,147.82 L438.70,148.76 L439.43,149.69 L440.16,150.61 L440.88,151.52 L441.61,152.41 L442.34,153.30 L443.06,154.17 L443.79,155.03 L444.52,155.88 L445.24,156.73 L445.97,157.56 L446.70,158.38 L447.43,159.20 L448.15,160.00 L448.88,160.79 L449.61,161.58 L450.33,162.35 L451.06,163.11 L451.79,163.87 L452.52,164.62 L453.24,165.35 L453.97,166.08 L454.70,166.80 L455.42,167.51 L456.15,168.21 L456.88,168.91 L457.60,169.59 L458.33,170.26 L459.06,170.93 L459.79,171.59 L460.51,172.24 L461.24,172.88 L461.97,173.51 L462.69,174.14 L463.42,174.75 L464.15,175.36 L464.88,175.96 L465.60,176.55 L466.33,177.13 L467.06,177.71 L467.78,178.28 L468.51,178.84 L469.24,179.39 L469.96,179.93 L470.69,180.46 L471.42,180.99 L472.15,181.51 L472.87,182.02 L473.60,182.52 L474.33,183.02 L475.05,183.51 L475.78,183.99 L476.51,184.46 L477.24,184.93 L477.96,185.38 L478.69,185.83 L479.42,186.27 L480.14,186.71 L480.87,187.13 L481.60,187.55 L482.32,187.97 L483.05,188.37 L483.78,188.77 L484.51,189.15 L485.23,189.54 L485.96,189.91 L486.69,190.28 L487.41,190.63 L488.14,190.99 L488.87,191.33 L489.60,191.67 L490.32,192.00 L491.05,192.32 L491.78,192.63 L492.50,192.94 L493.23,193.24 L493.96,193.53 L494.68,193.82 L495.41,194.10 L496.14,194.37 L496.87,194.63 L497.59,194.89 L498.32,195.14 L499.05,195.38 L499.77,195.61 L500.50,195.84 L501.23,196.06 L501.96,196.27 L502.68,196.48 L503.41,196.68 L504.14,196.87 L504.86,197.05 L505.59,197.23 L506.32,197.40 L507.04,197.56 L507.77,197.71 L508.50,197.86 L509.23,198.00 L509.95,198.14 L510.68,198.26 L511.41,198.38 L512.13,198.50 L512.86,198.60 L513.59,198.70 L514.32,198.79 L515.04,198.88 L515.77,198.95 L516.50,199.02 L517.22,199.09 L517.95,199.14 L518.68,199.19 L519.40,199.23 L520.13,199.27 L520.86,199.30 L521.59,199.32 L522.31,199.33 L523.04,199.34 L523.77,199.34 L524.49,199.33 L525.22,199.31 L525.95,199.29 L526.68,199.26 L527.40,199.23 L528.13,199.19 L528.86,199.14 L529.58,199.08 L530.31,199.02 L531.04,198.95 L531.76,198.87 L532.49,198.78 L533.22,198.69 L533.95,198.59 L534.67,198.49 L535.40,198.38 L536.13,198.26 L536.85,198.13 L537.58,198.00 L538.31,197.86 L539.04,197.71 L539.76,197.56 L540.49,197.40 L541.22,197.23 L541.94,197.05 L542.67,196.87 L543.40,196.68 L544.12,196.49 L544.85,196.28 L545.58,196.08 L546.31,195.86 L547.03,195.64 L547.76,195.41 L548.49,195.17 L549.21,194.93 L549.94,194.67 L550.67,194.42 L551.40,194.15 L552.12,193.88 L552.85,193.60 L553.58,193.32 L554.30,193.03 L555.03,192.73 L555.76,192.42 L556.48,192.11 L557.21,191.79 L557.94,191.46 L558.67,191.13 L559.39,190.79 L560.12,190.44 L560.85,190.09 L561.57,189.73 L562.30,189.36 L563.03,188.99 L563.76,188.61 L564.48,188.22 L565.21,187.82 L565.94,187.42 L566.66,187.01 L567.39,186.60 L568.12,186.18 L568.84,185.75 L569.57,185.31 L570.30,184.87 L571.03,184.42 L571.75,183.97 L572.48,183.50 L573.21,183.03 L573.93,182.56 L574.66,182.07 L575.39,181.58 L576.12,181.09 L576.84,180.59 L577.57,180.08 L578.30,179.56 L579.02,179.04 L579.75,178.51 L580.48,177.97 L581.20,177.43 L581.93,176.87 L582.66,176.32 L583.39,175.75 L584.11,175.18 L584.84,174.61 L585.57,174.02 L586.29,173.43 L587.02,172.84 L587.75,172.23 L588.48,171.62 L589.20,171.00 L589.93,170.38 L590.66,169.75 L591.38,169.11 L592.11,168.47 L592.84,167.82 L593.56,167.16 L594.29,166.50 L595.02,165.83 L595.75,165.15 L596.47,164.47 L597.20,163.78 L597.93,163.08 L598.65,162.38 L599.38,161.67 L600.11,160.95" fill="none" stroke="#bf00bf" stroke-width="2.8" stroke-dasharray="9.25,4.0"/>
<path d="M411.80,78.40 L412.82,82.32 L413.83,85.44 L414.85,88.25 L415.86,90.85 L416.88,93.31 L417.89,95.65 L418.91,97.88 L419.92,100.03 L420.94,102.11 L421.95,104.11 L422.97,106.06 L423.99,107.94 L425.00,109.78 L426.02,111.57 L427.03,113.31 L428.05,115.01 L429.06,116.67 L430.08,118.29 L431.09,119.88 L432.11,121.43 L433.12,122.95 L434.14,124.44 L435.16,125.90 L436.17,127.33 L437.19,128.74 L438.20,130.11 L439.22,131.46 L440.23,132.78 L441.25,134.08 L442.26,135.36 L443.28,136.61 L444.29,137.84 L445.31,139.04 L446.33,140.23 L447.34,141.39 L448.36,142.54 L449.37,143.66 L450.39,144.76 L451.40,145.84 L452.42,146.91 L453.43,147.95 L454.45,148.98 L455.46,149.99 L456.48,150.98 L457.49,151.95 L458.51,152.90 L459.53,153.84 L460.54,154.76 L461.56,155.67 L462.57,156.55 L463.59,157.42 L464.60,158.28 L465.62,159.11 L466.63,159.94 L467.65,160.74 L468.66,161.53 L469.68,162.31 L470.70,163.07 L471.71,163.81 L472.73,164.54 L473.74,165.26 L474.76,165.96 L475.77,166.64 L476.79,167.31 L477.80,167.97 L478.82,168.61 L479.83,169.24 L480.85,169.85 L481.87,170.45 L482.88,171.03 L483.90,171.60 L484.91,172.16 L485.93,172.70 L486.94,173.23 L487.96,173.74 L488.97,174.24 L489.99,174.73 L491.00,175.20 L492.02,175.66 L493.04,176.11 L494.05,176.54 L495.07,176.96 L496.08,177.37 L497.10,177.76 L498.11,178.14 L499.13,178.51 L500.14,178.86 L501.16,179.20 L502.17,179.52 L503.19,179.84 L504.21,180.14 L505.22,180.42 L506.24,180.69 L507.25,180.95 L508.27,181.20 L509.28,181.44 L510.30,181.66 L511.31,181.86 L512.33,182.06 L513.34,182.24 L514.36,182.41 L515.38,182.56 L516.39,182.70 L517.41,182.83 L518.42,182.95 L519.44,183.05 L520.45,183.14 L521.47,183.22 L522.48,183.28 L523.50,183.33 L524.51,183.37 L525.53,183.39 L526.55,183.41 L527.56,183.40 L528.58,183.39 L529.59,183.36 L530.61,183.32 L531.62,183.26 L532.64,183.20 L533.65,183.12 L534.67,183.02 L535.68,182.92 L536.70,182.79 L537.72,182.66 L538.73,182.51 L539.75,182.35 L540.76,182.18 L541.78,181.99 L542.79,181.79 L543.81,181.58 L544.82,181.35 L545.84,181.11 L546.85,180.86 L547.87,180.59 L548.88,180.31 L549.90,180.02 L550.92,179.71 L551.93,179.39 L552.95,179.05 L553.96,178.70 L554.98,178.34 L555.99,177.96 L557.01,177.58 L558.02,177.17 L559.04,176.75 L560.05,176.32 L561.07,175.88 L562.09,175.42 L563.10,174.95 L564.12,174.46 L565.13,173.96 L566.15,173.45 L567.16,172.92 L568.18,172.38 L569.19,171.82 L570.21,171.25 L571.22,170.66 L572.24,170.06 L573.26,169.45 L574.27,168.82 L575.29,168.18 L576.30,167.52 L577.32,166.85 L578.33,166.17 L579.35,165.47 L580.36,164.75 L581.38,164.02 L582.39,163.28 L583.41,162.52 L584.43,161.75 L585.44,160.96 L586.46,160.16 L587.47,159.34 L588.49,158.51 L589.50,157.66 L590.52,156.80 L591.53,155.93 L592.55,155.03 L593.56,154.13 L594.58,153.20 L595.60,152.27 L596.61,151.31 L597.63,150.35 L598.64,149.36 L599.66,148.36 L600.67,147.35 L601.69,146.32 L602.70,145.28 L603.72,144.22 L604.73,143.14 L605.75,142.05 L606.77,140.94 L607.78,139.82 L608.80,138.68 L609.81,137.52 L610.83,136.35 L611.84,135.16 L612.86,133.96 L613.87,132.74 L614.89,131.51 L615.90,130.26 L616.92,128.99 L617.94,127.70 L618.95,126.40 L619.97,125.09 L620.98,123.75 L622.00,122.40 L623.01,121.04 L624.03,119.66 L625.04,118.26 L626.06,116.84 L627.07,115.41 L628.09,113.96 L629.11,112.49 L630.12,111.01 L631.14,109.51 L632.15,107.99 L633.17,106.45 L634.18,104.90 L635.20,103.33 L636.21,101.75 L637.23,100.14 L638.24,98.52 L639.26,96.88 L640.27,95.23 L641.29,93.55 L642.31,91.86 L643.32,90.15 L644.34,88.43 L645.35,86.68 L646.37,84.92 L647.38,83.14 L648.40,81.34 L649.41,79.52 L650.43,77.69 L651.44,75.84 L652.46,73.97 L653.48,72.08 L654.49,70.17 L655.51,68.24 L656.52,66.30 L657.54,64.33 L658.55,62.35 L659.57,60.35 L660.58,58.33 L661.60,56.29 L662.61,54.24 L663.63,52.16 L664.65,50.06 L665.66,47.95 L666.68,45.82 L667.69,43.67 L668.71,41.49 L669.72,39.30 L670.74,37.09 L671.75,34.86 L672.77,32.61 L673.78,30.34 L674.80,28.05" fill="none" stroke="#008000" stroke-width="2.8" stroke-dasharray="16,4,2.5,4"/>
<path d="M411.80,77.09 L412.82,81.45 L413.83,84.85 L414.85,87.88 L415.86,90.67 L416.88,93.29 L417.89,95.78 L418.91,98.15 L419.92,100.42 L420.94,102.61 L421.95,104.73 L422.97,106.78 L423.99,108.76 L425.00,110.70 L426.02,112.58 L427.03,114.41 L428.05,116.20 L429.06,117.95 L430.08,119.66 L431.09,121.33 L432.11,122.97 L433.12,124.58 L434.14,126.15 L435.16,127.70 L436.17,129.21 L437.19,130.70 L438.20,132.16 L439.22,133.60 L440.23,135.01 L441.25,136.40 L442.26,137.76 L443.28,139.11 L444.29,140.43 L445.31,141.73 L446.33,143.00 L447.34,144.26 L448.36,145.50 L449.37,146.72 L450.39,147.92 L451.40,149.11 L452.42,150.27 L453.43,151.42 L454.45,152.55 L455.46,153.66 L456.48,154.76 L457.49,155.84 L458.51,156.90 L459.53,157.95 L460.54,158.99 L461.56,160.00 L462.57,161.01 L463.59,161.99 L464.60,162.97 L465.62,163.93 L466.63,164.87 L467.65,165.80 L468.66,166.72 L469.68,167.62 L470.70,168.51 L471.71,169.39 L472.73,170.25 L473.74,171.10 L474.76,171.93 L475.77,172.76 L476.79,173.57 L477.80,174.36 L478.82,175.15 L479.83,175.92 L480.85,176.68 L481.87,177.43 L482.88,178.17 L483.90,178.89 L484.91,179.60 L485.93,180.30 L486.94,180.99 L487.96,181.67 L488.97,182.33 L489.99,182.98 L491.00,183.63 L492.02,184.26 L493.04,184.88 L494.05,185.49 L495.07,186.08 L496.08,186.67 L497.10,187.24 L498.11,187.81 L499.13,188.36 L500.14,188.91 L501.16,189.44 L502.17,189.96 L503.19,190.47 L504.21,190.97 L505.22,191.46 L506.24,191.94 L507.25,192.41 L508.27,192.87 L509.28,193.32 L510.30,193.76 L511.31,194.19 L512.33,194.62 L513.34,195.03 L514.36,195.43 L515.38,195.82 L516.39,196.20 L517.41,196.57 L518.42,196.94 L519.44,197.29 L520.45,197.63 L521.47,197.97 L522.48,198.29 L523.50,198.61 L524.51,198.92 L525.53,199.22 L526.55,199.51 L527.56,199.79 L528.58,200.06 L529.59,200.33 L530.61,200.58 L531.62,200.83 L532.64,201.07 L533.65,201.30 L534.67,201.52 L535.68,201.73 L536.70,201.94 L537.72,202.13 L538.73,202.32 L539.75,202.51 L540.76,202.68 L541.78,202.84 L542.79,203.00 L543.81,203.15 L544.82,203.29 L545.84,203.43 L546.85,203.56 L547.87,203.68 L548.88,203.79 L549.90,203.90 L550.92,204.00 L551.93,204.09 L552.95,204.17 L553.96,204.25 L554.98,204.32 L555.99,204.38 L557.01,204.44 L558.02,204.49 L559.04,204.54 L560.05,204.57 L561.07,204.60 L562.09,204.63 L563.10,204.65 L564.12,204.66 L565.13,204.66 L566.15,204.66 L567.16,204.66 L568.18,204.65 L569.19,204.63 L570.21,204.60 L571.22,204.57 L572.24,204.54 L573.26,204.50 L574.27,204.45 L575.29,204.40 L576.30,204.34 L577.32,204.28 L578.33,204.21 L579.35,204.14 L580.36,204.06 L581.38,203.98 L582.39,203.89 L583.41,203.79 L584.43,203.69 L585.44,203.59 L586.46,203.48 L587.47,203.37 L588.49,203.25 L589.50,203.12 L590.52,203.00 L591.53,202.86 L592.55,202.73 L593.56,202.58 L594.58,202.44 L595.60,202.28 L596.61,202.13 L597.63,201.97 L598.64,201.80 L599.66,201.63 L600.67,201.45 L601.69,201.28 L602.70,201.09 L603.72,200.90 L604.73,200.71 L605.75,200.51 L606.77,200.31 L607.78,200.10 L608.80,199.89 L609.81,199.67 L610.83,199.45 L611.84,199.22 L612.86,198.98 L613.87,198.75 L614.89,198.50 L615.90,198.25 L616.92,198.00 L617.94,197.74 L618.95,197.47 L619.97,197.20 L620.98,196.92 L622.00,196.64 L623.01,196.35 L624.03,196.05 L625.04,195.74 L626.06,195.43 L627.07,195.11 L628.09,194.78 L629.11,194.45 L630.12,194.10 L631.14,193.75 L632.15,193.39 L633.17,193.02 L634.18,192.63 L635.20,192.24 L636.21,191.84 L637.23,191.42 L638.24,190.99 L639.26,190.55 L640.27,190.10 L641.29,189.63 L642.31,189.15 L643.32,188.65 L644.34,188.14 L645.35,187.60 L646.37,187.05 L647.38,186.48 L648.40,185.89 L649.41,185.28 L650.43,184.64 L651.44,183.98 L652.46,183.30 L653.48,182.58 L654.49,181.84 L655.51,181.06 L656.52,180.26 L657.54,179.41 L658.55,178.53 L659.57,177.61 L660.58,176.65 L661.60,175.64 L662.61,174.58 L663.63,173.47 L664.65,172.30 L665.66,171.07 L666.68,169.77 L667.69,168.41 L668.71,166.97 L669.72,165.45 L670.74,163.84 L671.75,162.13 L672.77,160.32 L673.78,158.40 L674.80,156.36" fill="none" stroke="#ff0000" stroke-width="2.8"/>
<path d="M411.80,93.13 L412.82,96.73 L413.83,99.62 L414.85,102.25 L415.86,104.69 L416.88,107.01 L417.89,109.22 L418.91,111.34 L419.92,113.39 L420.94,115.37 L421.95,117.29 L422.97,119.16 L423.99,120.98 L425.00,122.75 L426.02,124.48 L427.03,126.18 L428.05,127.83 L429.06,129.45 L430.08,131.04 L431.09,132.60 L432.11,134.12 L433.12,135.62 L434.14,137.09 L435.16,138.53 L436.17,139.95 L437.19,141.34 L438.20,142.71 L439.22,144.06 L440.23,145.38 L441.25,146.68 L442.26,147.95 L443.28,149.21 L444.29,150.45 L445.31,151.66 L446.33,152.86 L447.34,154.03 L448.36,155.19 L449.37,156.33 L450.39,157.45 L451.40,158.55 L452.42,159.63 L453.43,160.70 L454.45,161.75 L455.46,162.78 L456.48,163.79 L457.49,164.79 L458.51,165.77 L459.53,166.73 L460.54,167.68 L461.56,168.61 L462.57,169.52 L463.59,170.42 L464.60,171.30 L465.62,172.17 L466.63,173.02 L467.65,173.85 L468.66,174.67 L469.68,175.48 L470.70,176.27 L471.71,177.04 L472.73,177.80 L473.74,178.54 L474.76,179.27 L475.77,179.99 L476.79,180.69 L477.80,181.37 L478.82,182.04 L479.83,182.69 L480.85,183.33 L481.87,183.96 L482.88,184.57 L483.90,185.17 L484.91,185.75 L485.93,186.32 L486.94,186.87 L487.96,187.41 L488.97,187.93 L489.99,188.44 L491.00,188.94 L492.02,189.42 L493.04,189.88 L494.05,190.34 L495.07,190.77 L496.08,191.20 L497.10,191.61 L498.11,192.00 L499.13,192.38 L500.14,192.75 L501.16,193.10 L502.17,193.44 L503.19,193.77 L504.21,194.08 L505.22,194.37 L506.24,194.65 L507.25,194.92 L508.27,195.17 L509.28,195.41 L510.30,195.64 L511.31,195.85 L512.33,196.04 L513.34,196.23 L514.36,196.39 L515.38,196.55 L516.39,196.69 L517.41,196.81 L518.42,196.92 L519.44,197.02 L520.45,197.10 L521.47,197.17 L522.48,197.22 L523.50,197.26 L524.51,197.29 L525.53,197.30 L526.55,197.30 L527.56,197.28 L528.58,197.25 L529.59,197.20 L530.61,197.14 L531.62,197.07 L532.64,196.98 L533.65,196.87 L534.67,196.76 L535.68,196.62 L536.70,196.48 L537.72,196.32 L538.73,196.14 L539.75,195.95 L540.76,195.75 L541.78,195.53 L542.79,195.29 L543.81,195.05 L544.82,194.78 L545.84,194.51 L546.85,194.22 L547.87,193.91 L548.88,193.59 L549.90,193.26 L550.92,192.91 L551.93,192.54 L552.95,192.16 L553.96,191.77 L554.98,191.36 L555.99,190.94 L557.01,190.50 L558.02,190.05 L559.04,189.58 L560.05,189.10 L561.07,188.61 L562.09,188.10 L563.10,187.57 L564.12,187.03 L565.13,186.48 L566.15,185.91 L567.16,185.33 L568.18,184.73 L569.19,184.11 L570.21,183.49 L571.22,182.84 L572.24,182.18 L573.26,181.51 L574.27,180.82 L575.29,180.12 L576.30,179.41 L577.32,178.67 L578.33,177.93 L579.35,177.17 L580.36,176.39 L581.38,175.60 L582.39,174.79 L583.41,173.97 L584.43,173.14 L585.44,172.29 L586.46,171.42 L587.47,170.54 L588.49,169.65 L589.50,168.74 L590.52,167.81 L591.53,166.87 L592.55,165.92 L593.56,164.95 L594.58,163.96 L595.60,162.96 L596.61,161.95 L597.63,160.92 L598.64,159.87 L599.66,158.81 L600.67,157.74 L601.69,156.65 L602.70,155.55 L603.72,154.43 L604.73,153.29 L605.75,152.14 L606.77,150.98 L607.78,149.80 L608.80,148.61 L609.81,147.40 L610.83,146.18 L611.84,144.94 L612.86,143.68 L613.87,142.42 L614.89,141.13 L615.90,139.83 L616.92,138.52 L617.94,137.19 L618.95,135.85 L619.97,134.49 L620.98,133.12 L622.00,131.73 L623.01,130.33 L624.03,128.91 L625.04,127.48 L626.06,126.03 L627.07,124.57 L628.09,123.09 L629.11,121.60 L630.12,120.09 L631.14,118.57 L632.15,117.03 L633.17,115.48 L634.18,113.91 L635.20,112.33 L636.21,110.73 L637.23,109.12 L638.24,107.50 L639.26,105.86 L640.27,104.20 L641.29,102.53 L642.31,100.85 L643.32,99.15 L644.34,97.43 L645.35,95.70 L646.37,93.96 L647.38,92.20 L648.40,90.43 L649.41,88.64 L650.43,86.84 L651.44,85.02 L652.46,83.19 L653.48,81.34 L654.49,79.48 L655.51,77.61 L656.52,75.72 L657.54,73.81 L658.55,71.89 L659.57,69.96 L660.58,68.01 L661.60,66.05 L662.61,64.07 L663.63,62.08 L664.65,60.07 L665.66,58.05 L666.68,56.02 L667.69,53.97 L668.71,51.90 L669.72,49.83 L670.74,47.73 L671.75,45.63 L672.77,43.51 L673.78,41.37 L674.80,39.22" fill="none" stroke="#0000ff" stroke-width="2.8" stroke-dasharray="2.5,4.125"/>
<line x1="496.4" y1="200" x2="527.4" y2="200" stroke="#000" stroke-width="1.8"/>
<rect x="510.10" y="194.60" width="3.8" height="11.20" fill="#000" fill-opacity="0.9"/>
<rect x="506.40" y="198.20" width="11.20" height="4.0" fill="#000" fill-opacity="0.9"/>
<line x1="538.8" y1="203.9" x2="590.7" y2="203.9" stroke="#000" stroke-width="1.8"/>
<rect x="563.10" y="198.20" width="3.8" height="11.20" fill="#000" fill-opacity="0.9"/>
<rect x="559.40" y="201.80" width="11.20" height="4.0" fill="#000" fill-opacity="0.9"/>
</g>
<circle cx="674.9" cy="154.5" r="4.9" fill="#000"/>
<rect x="411.8" y="17.8" width="263.00" height="196.00" fill="none" stroke="#000" stroke-width="1.45"/>
<line x1="411.80" y1="213.8" x2="411.80" y2="208.80" stroke="#000" stroke-width="1.45"/>
<text transform="scale(1.0958,1)" x="370.97" y="232.30" font-size="17.40">0</text>
<line x1="464.40" y1="213.8" x2="464.40" y2="208.80" stroke="#000" stroke-width="1.45"/>
<text transform="scale(1.0958,1)" x="414.13 423.81" y="232.30" font-size="17.40">10</text>
<line x1="517.00" y1="213.8" x2="517.00" y2="208.80" stroke="#000" stroke-width="1.45"/>
<text transform="scale(1.0958,1)" x="462.13 471.81" y="232.30" font-size="17.40">20</text>
<line x1="569.60" y1="213.8" x2="569.60" y2="208.80" stroke="#000" stroke-width="1.45"/>
<text transform="scale(1.0958,1)" x="510.14 519.82" y="232.30" font-size="17.40">30</text>
<line x1="622.20" y1="213.8" x2="622.20" y2="208.80" stroke="#000" stroke-width="1.45"/>
<text transform="scale(1.0958,1)" x="558.14 567.82" y="232.30" font-size="17.40">40</text>
<line x1="674.80" y1="213.8" x2="674.80" y2="208.80" stroke="#000" stroke-width="1.45"/>
<text transform="scale(1.0958,1)" x="606.14 615.82" y="232.30" font-size="17.40">50</text>
<line x1="411.8" y1="167.70" x2="416.80" y2="167.70" stroke="#000" stroke-width="1.45"/>
<text transform="scale(1.0958,1)" x="346.86 356.54 361.37" y="173.50" font-size="17.40">0.0</text>
<line x1="411.8" y1="119.50" x2="416.80" y2="119.50" stroke="#000" stroke-width="1.45"/>
<text transform="scale(1.0958,1)" x="346.86 356.54 361.37" y="125.30" font-size="17.40">0.1</text>
<line x1="411.8" y1="71.30" x2="416.80" y2="71.30" stroke="#000" stroke-width="1.45"/>
<text transform="scale(1.0958,1)" x="346.86 356.54 361.37" y="77.10" font-size="17.40">0.2</text>
<line x1="411.8" y1="23.10" x2="416.80" y2="23.10" stroke="#000" stroke-width="1.45"/>
<text transform="scale(1.0958,1)" x="346.86 356.54 361.37" y="28.90" font-size="17.40">0.3</text>
<line x1="496.6" y1="37.8" x2="527.2" y2="37.8" stroke="#bf00bf" stroke-width="2.8" stroke-dasharray="9.25,4.0"/>
<line x1="496.6" y1="60.2" x2="527.2" y2="60.2" stroke="#008000" stroke-width="2.8" stroke-dasharray="16,4,2.5,4"/>
<line x1="496.6" y1="82.6" x2="527.2" y2="82.6" stroke="#ff0000" stroke-width="2.8" stroke-linecap="square"/>
<line x1="496.6" y1="105.0" x2="527.2" y2="105.0" stroke="#0000ff" stroke-width="2.8" stroke-dasharray="2.5,4.125"/>
<line x1="496.6" y1="127.4" x2="527.2" y2="127.4" stroke="#000" stroke-width="2.8" stroke-linecap="square"/>
<line x1="511.9" y1="120.2" x2="511.9" y2="134.6" stroke="#000" stroke-width="2.2"/>
<circle cx="511.9" cy="127.4" r="4.8" fill="#000"/>
<text transform="scale(1.1278,1)" x="477.74 486.34 493.80" y="43.70" font-size="15.30">hcp</text>
<text transform="scale(1.1721,1)" x="459.69 463.32 466.94 475.23 483.50 487.13" y="66.10" font-size="15.30">liquid</text>
<text transform="scale(1.1100,1)" x="485.38 494.13 501.71 509.29 513.93 523.39" y="88.50" font-size="15.30">bcc/B2</text>
<text transform="scale(1.1360,1)" x="474.28 479.02 486.42" y="110.90" font-size="15.30">fcc</text>
<text transform="scale(1.0810,1)" x="498.41 508.12" y="133.30" font-size="15.30">B2</text>
<g clip-path="url(#clipC)">
<path d="M69.80,331.20 L70.53,335.21 L71.25,338.23 L71.98,340.89 L72.71,343.32 L73.44,345.57 L74.16,347.69 L74.89,349.71 L75.62,351.63 L76.34,353.47 L77.07,355.25 L77.80,356.96 L78.52,358.62 L79.25,360.23 L79.98,361.79 L80.71,363.31 L81.43,364.80 L82.16,366.25 L82.89,367.67 L83.61,369.05 L84.34,370.41 L85.07,371.74 L85.80,373.05 L86.52,374.34 L87.25,375.60 L87.98,376.84 L88.70,378.06 L89.43,379.26 L90.16,380.44 L90.88,381.61 L91.61,382.75 L92.34,383.88 L93.07,385.00 L93.79,386.10 L94.52,387.19 L95.25,388.26 L95.97,389.32 L96.70,390.36 L97.43,391.40 L98.16,392.42 L98.88,393.42 L99.61,394.42 L100.34,395.40 L101.06,396.38 L101.79,397.34 L102.52,398.29 L103.24,399.23 L103.97,400.16 L104.70,401.08 L105.43,401.99 L106.15,402.89 L106.88,403.78 L107.61,404.67 L108.33,405.54 L109.06,406.40 L109.79,407.25 L110.52,408.10 L111.24,408.93 L111.97,409.76 L112.70,410.58 L113.42,411.39 L114.15,412.19 L114.88,412.98 L115.60,413.76 L116.33,414.54 L117.06,415.30 L117.79,416.06 L118.51,416.81 L119.24,417.55 L119.97,418.29 L120.69,419.01 L121.42,419.73 L122.15,420.44 L122.88,421.14 L123.60,421.83 L124.33,422.52 L125.06,423.20 L125.78,423.86 L126.51,424.52 L127.24,425.18 L127.96,425.82 L128.69,426.46 L129.42,427.09 L130.15,427.71 L130.87,428.32 L131.60,428.93 L132.33,429.52 L133.05,430.11 L133.78,430.69 L134.51,431.27 L135.24,431.83 L135.96,432.39 L136.69,432.94 L137.42,433.48 L138.14,434.01 L138.87,434.54 L139.60,435.06 L140.32,435.56 L141.05,436.07 L141.78,436.56 L142.51,437.04 L143.23,437.52 L143.96,437.99 L144.69,438.45 L145.41,438.90 L146.14,439.35 L146.87,439.79 L147.60,440.21 L148.32,440.63 L149.05,441.05 L149.78,441.45 L150.50,441.85 L151.23,442.23 L151.96,442.61 L152.68,442.98 L153.41,443.35 L154.14,443.70 L154.87,444.05 L155.59,444.39 L156.32,444.72 L157.05,445.04 L157.77,445.35 L158.50,445.66 L159.23,445.96 L159.96,446.25 L160.68,446.53 L161.41,446.80 L162.14,447.06 L162.86,447.32 L163.59,447.56 L164.32,447.80 L165.04,448.03 L165.77,448.26 L166.50,448.47 L167.23,448.68 L167.95,448.87 L168.68,449.06 L169.41,449.24 L170.13,449.41 L170.86,449.58 L171.59,449.73 L172.32,449.88 L173.04,450.02 L173.77,450.15 L174.50,450.27 L175.22,450.39 L175.95,450.49 L176.68,450.59 L177.40,450.68 L178.13,450.76 L178.86,450.83 L179.59,450.89 L180.31,450.95 L181.04,451.00 L181.77,451.03 L182.49,451.06 L183.22,451.09 L183.95,451.10 L184.68,451.11 L185.40,451.10 L186.13,451.09 L186.86,451.08 L187.58,451.05 L188.31,451.01 L189.04,450.97 L189.76,450.92 L190.49,450.86 L191.22,450.79 L191.95,450.72 L192.67,450.63 L193.40,450.54 L194.13,450.44 L194.85,450.34 L195.58,450.22 L196.31,450.10 L197.04,449.97 L197.76,449.83 L198.49,449.68 L199.22,449.53 L199.94,449.37 L200.67,449.20 L201.40,449.02 L202.12,448.83 L202.85,448.64 L203.58,448.44 L204.31,448.23 L205.03,448.02 L205.76,447.79 L206.49,447.56 L207.21,447.33 L207.94,447.08 L208.67,446.83 L209.40,446.57 L210.12,446.30 L210.85,446.03 L211.58,445.75 L212.30,445.46 L213.03,445.17 L213.76,444.86 L214.48,444.56 L215.21,444.24 L215.94,443.92 L216.67,443.59 L217.39,443.25 L218.12,442.91 L218.85,442.56 L219.57,442.20 L220.30,441.84 L221.03,441.47 L221.76,441.10 L222.48,440.72 L223.21,440.33 L223.94,439.94 L224.66,439.54 L225.39,439.13 L226.12,438.72 L226.84,438.30 L227.57,437.88 L228.30,437.45 L229.03,437.02 L229.75,436.58 L230.48,436.13 L231.21,435.68 L231.93,435.22 L232.66,434.76 L233.39,434.29 L234.12,433.82 L234.84,433.34 L235.57,432.86 L236.30,432.37 L237.02,431.88 L237.75,431.39 L238.48,430.88 L239.20,430.38 L239.93,429.87 L240.66,429.35 L241.39,428.83 L242.11,428.31 L242.84,427.78 L243.57,427.25 L244.29,426.72 L245.02,426.18 L245.75,425.63 L246.48,425.09 L247.20,424.54 L247.93,423.98 L248.66,423.43 L249.38,422.87 L250.11,422.30 L250.84,421.74 L251.56,421.17 L252.29,420.60 L253.02,420.02 L253.75,419.44 L254.47,418.86 L255.20,418.28 L255.93,417.70 L256.65,417.11 L257.38,416.52 L258.11,415.93" fill="none" stroke="#bf00bf" stroke-width="2.2" stroke-opacity="0.5"/>
<path d="M69.80,325.39 L70.82,328.31 L71.83,330.95 L72.85,333.47 L73.86,335.90 L74.88,338.26 L75.89,340.57 L76.91,342.82 L77.92,345.02 L78.94,347.18 L79.95,349.30 L80.97,351.38 L81.99,353.42 L83.00,355.43 L84.02,357.40 L85.03,359.33 L86.05,361.24 L87.06,363.11 L88.08,364.95 L89.09,366.76 L90.11,368.55 L91.12,370.30 L92.14,372.03 L93.16,373.72 L94.17,375.40 L95.19,377.04 L96.20,378.66 L97.22,380.25 L98.23,381.82 L99.25,383.36 L100.26,384.88 L101.28,386.38 L102.29,387.85 L103.31,389.29 L104.33,390.72 L105.34,392.12 L106.36,393.49 L107.37,394.85 L108.39,396.18 L109.40,397.49 L110.42,398.78 L111.43,400.05 L112.45,401.29 L113.46,402.52 L114.48,403.72 L115.49,404.90 L116.51,406.07 L117.53,407.21 L118.54,408.33 L119.56,409.43 L120.57,410.52 L121.59,411.58 L122.60,412.62 L123.62,413.64 L124.63,414.65 L125.65,415.63 L126.66,416.60 L127.68,417.55 L128.70,418.48 L129.71,419.39 L130.73,420.28 L131.74,421.16 L132.76,422.01 L133.77,422.85 L134.79,423.67 L135.80,424.48 L136.82,425.26 L137.83,426.03 L138.85,426.78 L139.87,427.51 L140.88,428.23 L141.90,428.93 L142.91,429.61 L143.93,430.28 L144.94,430.93 L145.96,431.56 L146.97,432.18 L147.99,432.78 L149.00,433.36 L150.02,433.93 L151.04,434.48 L152.05,435.01 L153.07,435.53 L154.08,436.03 L155.10,436.52 L156.11,436.99 L157.13,437.45 L158.14,437.89 L159.16,438.31 L160.17,438.72 L161.19,439.12 L162.21,439.49 L163.22,439.86 L164.24,440.20 L165.25,440.54 L166.27,440.85 L167.28,441.16 L168.30,441.44 L169.31,441.72 L170.33,441.97 L171.34,442.22 L172.36,442.44 L173.38,442.66 L174.39,442.86 L175.41,443.04 L176.42,443.21 L177.44,443.36 L178.45,443.50 L179.47,443.63 L180.48,443.74 L181.50,443.84 L182.51,443.92 L183.53,443.98 L184.55,444.04 L185.56,444.08 L186.58,444.10 L187.59,444.11 L188.61,444.11 L189.62,444.09 L190.64,444.06 L191.65,444.01 L192.67,443.95 L193.68,443.87 L194.70,443.78 L195.72,443.68 L196.73,443.56 L197.75,443.43 L198.76,443.28 L199.78,443.12 L200.79,442.94 L201.81,442.76 L202.82,442.55 L203.84,442.33 L204.85,442.10 L205.87,441.86 L206.88,441.60 L207.90,441.32 L208.92,441.03 L209.93,440.73 L210.95,440.41 L211.96,440.08 L212.98,439.74 L213.99,439.38 L215.01,439.00 L216.02,438.61 L217.04,438.21 L218.05,437.79 L219.07,437.36 L220.09,436.92 L221.10,436.46 L222.12,435.98 L223.13,435.49 L224.15,434.99 L225.16,434.47 L226.18,433.94 L227.19,433.39 L228.21,432.82 L229.22,432.25 L230.24,431.65 L231.26,431.05 L232.27,430.43 L233.29,429.79 L234.30,429.14 L235.32,428.47 L236.33,427.79 L237.35,427.09 L238.36,426.38 L239.38,425.65 L240.39,424.91 L241.41,424.15 L242.43,423.38 L243.44,422.59 L244.46,421.79 L245.47,420.97 L246.49,420.13 L247.50,419.28 L248.52,418.41 L249.53,417.53 L250.55,416.63 L251.56,415.72 L252.58,414.79 L253.60,413.84 L254.61,412.88 L255.63,411.90 L256.64,410.90 L257.66,409.89 L258.67,408.86 L259.69,407.82 L260.70,406.76 L261.72,405.68 L262.73,404.59 L263.75,403.47 L264.77,402.35 L265.78,401.20 L266.80,400.04 L267.81,398.86 L268.83,397.66 L269.84,396.44 L270.86,395.21 L271.87,393.96 L272.89,392.69 L273.90,391.41 L274.92,390.10 L275.94,388.78 L276.95,387.44 L277.97,386.09 L278.98,384.71 L280.00,383.31 L281.01,381.90 L282.03,380.47 L283.04,379.02 L284.06,377.55 L285.07,376.06 L286.09,374.55 L287.11,373.02 L288.12,371.48 L289.14,369.91 L290.15,368.33 L291.17,366.72 L292.18,365.09 L293.20,363.45 L294.21,361.78 L295.23,360.10 L296.24,358.39 L297.26,356.67 L298.27,354.92 L299.29,353.15 L300.31,351.36 L301.32,349.55 L302.34,347.72 L303.35,345.87 L304.37,343.99 L305.38,342.10 L306.40,340.18 L307.41,338.24 L308.43,336.28 L309.44,334.30 L310.46,332.29 L311.48,330.26 L312.49,328.21 L313.51,326.14 L314.52,324.04 L315.54,321.92 L316.55,319.78 L317.57,317.61 L318.58,315.42 L319.60,313.21 L320.61,310.97 L321.63,308.71 L322.65,306.43 L323.66,304.12 L324.68,301.78 L325.69,299.42 L326.71,297.04 L327.72,294.63 L328.74,292.19 L329.75,289.73 L330.77,287.25 L331.78,284.74 L332.80,282.20" fill="none" stroke="#008000" stroke-width="2.2" stroke-opacity="0.5"/>
<path d="M69.80,326.76 L70.82,330.66 L71.83,333.89 L72.85,336.86 L73.86,339.66 L74.88,342.33 L75.89,344.90 L76.91,347.37 L77.92,349.76 L78.94,352.08 L79.95,354.34 L80.97,356.54 L81.99,358.68 L83.00,360.78 L84.02,362.82 L85.03,364.83 L86.05,366.79 L87.06,368.70 L88.08,370.58 L89.09,372.43 L90.11,374.23 L91.12,376.00 L92.14,377.74 L93.16,379.45 L94.17,381.12 L95.19,382.77 L96.20,384.38 L97.22,385.97 L98.23,387.53 L99.25,389.06 L100.26,390.56 L101.28,392.04 L102.29,393.49 L103.31,394.92 L104.33,396.32 L105.34,397.69 L106.36,399.05 L107.37,400.38 L108.39,401.68 L109.40,402.97 L110.42,404.23 L111.43,405.47 L112.45,406.69 L113.46,407.88 L114.48,409.06 L115.49,410.21 L116.51,411.35 L117.53,412.46 L118.54,413.56 L119.56,414.63 L120.57,415.68 L121.59,416.72 L122.60,417.73 L123.62,418.73 L124.63,419.71 L125.65,420.66 L126.66,421.60 L127.68,422.53 L128.70,423.43 L129.71,424.31 L130.73,425.18 L131.74,426.03 L132.76,426.86 L133.77,427.68 L134.79,428.48 L135.80,429.26 L136.82,430.02 L137.83,430.77 L138.85,431.50 L139.87,432.21 L140.88,432.90 L141.90,433.58 L142.91,434.25 L143.93,434.89 L144.94,435.52 L145.96,436.14 L146.97,436.74 L147.99,437.32 L149.00,437.89 L150.02,438.44 L151.04,438.97 L152.05,439.49 L153.07,439.99 L154.08,440.48 L155.10,440.95 L156.11,441.41 L157.13,441.85 L158.14,442.28 L159.16,442.69 L160.17,443.08 L161.19,443.47 L162.21,443.83 L163.22,444.18 L164.24,444.52 L165.25,444.84 L166.27,445.14 L167.28,445.43 L168.30,445.71 L169.31,445.97 L170.33,446.22 L171.34,446.45 L172.36,446.66 L173.38,446.87 L174.39,447.05 L175.41,447.23 L176.42,447.38 L177.44,447.53 L178.45,447.66 L179.47,447.77 L180.48,447.87 L181.50,447.96 L182.51,448.03 L183.53,448.08 L184.55,448.13 L185.56,448.15 L186.58,448.17 L187.59,448.16 L188.61,448.15 L189.62,448.12 L190.64,448.07 L191.65,448.01 L192.67,447.94 L193.68,447.85 L194.70,447.75 L195.72,447.63 L196.73,447.50 L197.75,447.35 L198.76,447.19 L199.78,447.02 L200.79,446.83 L201.81,446.62 L202.82,446.41 L203.84,446.17 L204.85,445.92 L205.87,445.66 L206.88,445.39 L207.90,445.09 L208.92,444.79 L209.93,444.47 L210.95,444.13 L211.96,443.78 L212.98,443.42 L213.99,443.04 L215.01,442.65 L216.02,442.24 L217.04,441.81 L218.05,441.37 L219.07,440.92 L220.09,440.45 L221.10,439.97 L222.12,439.47 L223.13,438.96 L224.15,438.43 L225.16,437.89 L226.18,437.33 L227.19,436.76 L228.21,436.17 L229.22,435.57 L230.24,434.95 L231.26,434.31 L232.27,433.66 L233.29,433.00 L234.30,432.32 L235.32,431.62 L236.33,430.91 L237.35,430.19 L238.36,429.44 L239.38,428.69 L240.39,427.91 L241.41,427.12 L242.43,426.32 L243.44,425.50 L244.46,424.66 L245.47,423.81 L246.49,422.94 L247.50,422.06 L248.52,421.16 L249.53,420.24 L250.55,419.31 L251.56,418.36 L252.58,417.39 L253.60,416.41 L254.61,415.41 L255.63,414.39 L256.64,413.36 L257.66,412.31 L258.67,411.25 L259.69,410.17 L260.70,409.07 L261.72,407.95 L262.73,406.82 L263.75,405.67 L264.77,404.50 L265.78,403.32 L266.80,402.12 L267.81,400.90 L268.83,399.66 L269.84,398.41 L270.86,397.13 L271.87,395.84 L272.89,394.54 L273.90,393.21 L274.92,391.87 L275.94,390.51 L276.95,389.13 L277.97,387.73 L278.98,386.32 L280.00,384.88 L281.01,383.43 L282.03,381.96 L283.04,380.47 L284.06,378.97 L285.07,377.44 L286.09,375.89 L287.11,374.33 L288.12,372.75 L289.14,371.14 L290.15,369.52 L291.17,367.88 L292.18,366.22 L293.20,364.54 L294.21,362.84 L295.23,361.12 L296.24,359.38 L297.26,357.63 L298.27,355.85 L299.29,354.05 L300.31,352.23 L301.32,350.39 L302.34,348.53 L303.35,346.65 L304.37,344.75 L305.38,342.83 L306.40,340.89 L307.41,338.92 L308.43,336.94 L309.44,334.93 L310.46,332.91 L311.48,330.86 L312.49,328.79 L313.51,326.70 L314.52,324.59 L315.54,322.45 L316.55,320.30 L317.57,318.12 L318.58,315.92 L319.60,313.69 L320.61,311.45 L321.63,309.18 L322.65,306.89 L323.66,304.58 L324.68,302.24 L325.69,299.89 L326.71,297.50 L327.72,295.10 L328.74,292.67 L329.75,290.22 L330.77,287.74 L331.78,285.25 L332.80,282.72" fill="none" stroke="#0000ff" stroke-width="2.2" stroke-opacity="0.5"/>
<path d="M69.80,331.20 L70.53,335.21 L71.25,338.23 L71.98,340.89 L72.71,343.32 L73.44,345.57 L74.16,347.69 L74.89,349.71 L75.62,351.63 L76.34,353.47 L77.07,355.25 L77.80,356.96 L78.52,358.62 L79.25,360.23 L79.98,361.79 L80.71,363.31 L81.43,364.80 L82.16,366.25 L82.89,367.67 L83.61,369.05 L84.34,370.41 L85.07,371.74 L85.80,373.05 L86.52,374.34 L87.25,375.60 L87.98,376.84 L88.70,378.06 L89.43,379.26 L90.16,380.44 L90.88,381.61 L91.61,382.75 L92.34,383.88 L93.07,385.00 L93.79,386.10 L94.52,387.19 L95.25,388.26 L95.97,389.32 L96.70,390.36 L97.43,391.40 L98.16,392.42 L98.88,393.42 L99.61,394.42 L100.34,395.40 L101.06,396.38 L101.79,397.34 L102.52,398.29 L103.24,399.23 L103.97,400.16 L104.70,401.08 L105.43,401.99 L106.15,402.89 L106.88,403.78 L107.61,404.67 L108.33,405.54 L109.06,406.40 L109.79,407.25 L110.52,408.10 L111.24,408.93 L111.97,409.76 L112.70,410.58 L113.42,411.39 L114.15,412.19 L114.88,412.98 L115.60,413.76 L116.33,414.54 L117.06,415.30 L117.79,416.06 L118.51,416.81 L119.24,417.55 L119.97,418.29 L120.69,419.01 L121.42,419.73 L122.15,420.44 L122.88,421.14 L123.60,421.83 L124.33,422.52 L125.06,423.20 L125.78,423.86 L126.51,424.52 L127.24,425.18 L127.96,425.82 L128.69,426.46 L129.42,427.09 L130.15,427.71 L130.87,428.32 L131.60,428.93 L132.33,429.52 L133.05,430.11 L133.78,430.69 L134.51,431.27 L135.24,431.83 L135.96,432.39 L136.69,432.94 L137.42,433.48 L138.14,434.01 L138.87,434.54 L139.60,435.06 L140.32,435.56 L141.05,436.07 L141.78,436.56 L142.51,437.04 L143.23,437.52 L143.96,437.99 L144.69,438.45 L145.41,438.90 L146.14,439.35 L146.87,439.79 L147.60,440.21 L148.32,440.63 L149.05,441.05 L149.78,441.45 L150.50,441.85 L151.23,442.23 L151.96,442.61 L152.68,442.98 L153.41,443.35 L154.14,443.70 L154.87,444.05 L155.59,444.39 L156.32,444.72 L157.05,445.04 L157.77,445.35 L158.50,445.66 L159.23,445.96 L159.96,446.25 L160.68,446.53 L161.41,446.80 L162.14,447.06 L162.86,447.32 L163.59,447.56 L164.32,447.80 L165.04,448.03 L165.77,448.26 L166.50,448.47 L167.23,448.68 L167.95,448.87 L168.68,449.06 L169.41,449.24 L170.13,449.41 L170.86,449.58 L171.59,449.73 L172.32,449.88 L173.04,450.02 L173.77,450.15 L174.50,450.27 L175.22,450.39 L175.95,450.49 L176.68,450.59 L177.40,450.68 L178.13,450.76 L178.86,450.83 L179.59,450.89 L180.31,450.95 L181.04,451.00 L181.77,451.03 L182.49,451.06 L183.22,451.09 L183.95,451.10 L184.68,451.11 L185.40,451.10 L186.13,451.09 L186.86,451.08 L187.58,451.05 L188.31,451.01 L189.04,450.97 L189.76,450.92 L190.49,450.86 L191.22,450.79 L191.95,450.72 L192.67,450.63 L193.40,450.54 L194.13,450.44 L194.85,450.34 L195.58,450.22 L196.31,450.10 L197.04,449.97 L197.76,449.83 L198.49,449.68 L199.22,449.53 L199.94,449.37 L200.67,449.20 L201.40,449.02 L202.12,448.83 L202.85,448.64 L203.58,448.44 L204.31,448.23 L205.03,448.02 L205.76,447.79 L206.49,447.56 L207.21,447.33 L207.94,447.08 L208.67,446.83 L209.40,446.57 L210.12,446.30 L210.85,446.03 L211.58,445.75 L212.30,445.46 L213.03,445.17 L213.76,444.86 L214.48,444.56 L215.21,444.24 L215.94,443.92 L216.67,443.59 L217.39,443.25 L218.12,442.91 L218.85,442.56 L219.57,442.20 L220.30,441.84 L221.03,441.47 L221.76,441.10 L222.48,440.72 L223.21,440.33 L223.94,439.94 L224.66,439.54 L225.39,439.13 L226.12,438.72 L226.84,438.30 L227.57,437.88 L228.30,437.45 L229.03,437.02 L229.75,436.58 L230.48,436.13 L231.21,435.68 L231.93,435.22 L232.66,434.76 L233.39,434.29 L234.12,433.82 L234.84,433.34 L235.57,432.86 L236.30,432.37 L237.02,431.88 L237.75,431.39 L238.48,430.88 L239.20,430.38 L239.93,429.87 L240.66,429.35 L241.39,428.83 L242.11,428.31 L242.84,427.78 L243.57,427.25 L244.29,426.72 L245.02,426.18 L245.75,425.63 L246.48,425.09 L247.20,424.54 L247.93,423.98 L248.66,423.43 L249.38,422.87 L250.11,422.30 L250.84,421.74 L251.56,421.17 L252.29,420.60 L253.02,420.02 L253.75,419.44 L254.47,418.86 L255.20,418.28 L255.93,417.70 L256.65,417.11 L257.38,416.52 L258.11,415.93" fill="none" stroke="#bf00bf" stroke-width="2.8" stroke-dasharray="9.25,4.0"/>
<path d="M69.80,325.39 L70.82,328.31 L71.83,330.95 L72.85,333.47 L73.86,335.90 L74.88,338.26 L75.89,340.57 L76.91,342.82 L77.92,345.02 L78.94,347.18 L79.95,349.30 L80.97,351.38 L81.99,353.42 L83.00,355.43 L84.02,357.40 L85.03,359.33 L86.05,361.24 L87.06,363.11 L88.08,364.95 L89.09,366.76 L90.11,368.55 L91.12,370.30 L92.14,372.03 L93.16,373.72 L94.17,375.40 L95.19,377.04 L96.20,378.66 L97.22,380.25 L98.23,381.82 L99.25,383.36 L100.26,384.88 L101.28,386.38 L102.29,387.85 L103.31,389.29 L104.33,390.72 L105.34,392.12 L106.36,393.49 L107.37,394.85 L108.39,396.18 L109.40,397.49 L110.42,398.78 L111.43,400.05 L112.45,401.29 L113.46,402.52 L114.48,403.72 L115.49,404.90 L116.51,406.07 L117.53,407.21 L118.54,408.33 L119.56,409.43 L120.57,410.52 L121.59,411.58 L122.60,412.62 L123.62,413.64 L124.63,414.65 L125.65,415.63 L126.66,416.60 L127.68,417.55 L128.70,418.48 L129.71,419.39 L130.73,420.28 L131.74,421.16 L132.76,422.01 L133.77,422.85 L134.79,423.67 L135.80,424.48 L136.82,425.26 L137.83,426.03 L138.85,426.78 L139.87,427.51 L140.88,428.23 L141.90,428.93 L142.91,429.61 L143.93,430.28 L144.94,430.93 L145.96,431.56 L146.97,432.18 L147.99,432.78 L149.00,433.36 L150.02,433.93 L151.04,434.48 L152.05,435.01 L153.07,435.53 L154.08,436.03 L155.10,436.52 L156.11,436.99 L157.13,437.45 L158.14,437.89 L159.16,438.31 L160.17,438.72 L161.19,439.12 L162.21,439.49 L163.22,439.86 L164.24,440.20 L165.25,440.54 L166.27,440.85 L167.28,441.16 L168.30,441.44 L169.31,441.72 L170.33,441.97 L171.34,442.22 L172.36,442.44 L173.38,442.66 L174.39,442.86 L175.41,443.04 L176.42,443.21 L177.44,443.36 L178.45,443.50 L179.47,443.63 L180.48,443.74 L181.50,443.84 L182.51,443.92 L183.53,443.98 L184.55,444.04 L185.56,444.08 L186.58,444.10 L187.59,444.11 L188.61,444.11 L189.62,444.09 L190.64,444.06 L191.65,444.01 L192.67,443.95 L193.68,443.87 L194.70,443.78 L195.72,443.68 L196.73,443.56 L197.75,443.43 L198.76,443.28 L199.78,443.12 L200.79,442.94 L201.81,442.76 L202.82,442.55 L203.84,442.33 L204.85,442.10 L205.87,441.86 L206.88,441.60 L207.90,441.32 L208.92,441.03 L209.93,440.73 L210.95,440.41 L211.96,440.08 L212.98,439.74 L213.99,439.38 L215.01,439.00 L216.02,438.61 L217.04,438.21 L218.05,437.79 L219.07,437.36 L220.09,436.92 L221.10,436.46 L222.12,435.98 L223.13,435.49 L224.15,434.99 L225.16,434.47 L226.18,433.94 L227.19,433.39 L228.21,432.82 L229.22,432.25 L230.24,431.65 L231.26,431.05 L232.27,430.43 L233.29,429.79 L234.30,429.14 L235.32,428.47 L236.33,427.79 L237.35,427.09 L238.36,426.38 L239.38,425.65 L240.39,424.91 L241.41,424.15 L242.43,423.38 L243.44,422.59 L244.46,421.79 L245.47,420.97 L246.49,420.13 L247.50,419.28 L248.52,418.41 L249.53,417.53 L250.55,416.63 L251.56,415.72 L252.58,414.79 L253.60,413.84 L254.61,412.88 L255.63,411.90 L256.64,410.90 L257.66,409.89 L258.67,408.86 L259.69,407.82 L260.70,406.76 L261.72,405.68 L262.73,404.59 L263.75,403.47 L264.77,402.35 L265.78,401.20 L266.80,400.04 L267.81,398.86 L268.83,397.66 L269.84,396.44 L270.86,395.21 L271.87,393.96 L272.89,392.69 L273.90,391.41 L274.92,390.10 L275.94,388.78 L276.95,387.44 L277.97,386.09 L278.98,384.71 L280.00,383.31 L281.01,381.90 L282.03,380.47 L283.04,379.02 L284.06,377.55 L285.07,376.06 L286.09,374.55 L287.11,373.02 L288.12,371.48 L289.14,369.91 L290.15,368.33 L291.17,366.72 L292.18,365.09 L293.20,363.45 L294.21,361.78 L295.23,360.10 L296.24,358.39 L297.26,356.67 L298.27,354.92 L299.29,353.15 L300.31,351.36 L301.32,349.55 L302.34,347.72 L303.35,345.87 L304.37,343.99 L305.38,342.10 L306.40,340.18 L307.41,338.24 L308.43,336.28 L309.44,334.30 L310.46,332.29 L311.48,330.26 L312.49,328.21 L313.51,326.14 L314.52,324.04 L315.54,321.92 L316.55,319.78 L317.57,317.61 L318.58,315.42 L319.60,313.21 L320.61,310.97 L321.63,308.71 L322.65,306.43 L323.66,304.12 L324.68,301.78 L325.69,299.42 L326.71,297.04 L327.72,294.63 L328.74,292.19 L329.75,289.73 L330.77,287.25 L331.78,284.74 L332.80,282.20" fill="none" stroke="#008000" stroke-width="2.8" stroke-dasharray="16,4,2.5,4"/>
<path d="M69.80,313.56 L70.82,318.44 L71.83,322.24 L72.85,325.64 L73.86,328.78 L74.88,331.73 L75.89,334.53 L76.91,337.21 L77.92,339.77 L78.94,342.25 L79.95,344.65 L80.97,346.97 L81.99,349.22 L83.00,351.42 L84.02,353.55 L85.03,355.64 L86.05,357.68 L87.06,359.67 L88.08,361.63 L89.09,363.54 L90.11,365.41 L91.12,367.25 L92.14,369.05 L93.16,370.82 L94.17,372.56 L95.19,374.27 L96.20,375.95 L97.22,377.60 L98.23,379.23 L99.25,380.83 L100.26,382.40 L101.28,383.95 L102.29,385.47 L103.31,386.98 L104.33,388.45 L105.34,389.91 L106.36,391.35 L107.37,392.76 L108.39,394.15 L109.40,395.52 L110.42,396.88 L111.43,398.21 L112.45,399.52 L113.46,400.82 L114.48,402.09 L115.49,403.35 L116.51,404.59 L117.53,405.81 L118.54,407.01 L119.56,408.20 L120.57,409.37 L121.59,410.52 L122.60,411.66 L123.62,412.78 L124.63,413.88 L125.65,414.96 L126.66,416.04 L127.68,417.09 L128.70,418.13 L129.71,419.15 L130.73,420.16 L131.74,421.15 L132.76,422.13 L133.77,423.09 L134.79,424.04 L135.80,424.97 L136.82,425.89 L137.83,426.79 L138.85,427.68 L139.87,428.56 L140.88,429.42 L141.90,430.26 L142.91,431.09 L143.93,431.91 L144.94,432.71 L145.96,433.50 L146.97,434.28 L147.99,435.04 L149.00,435.79 L150.02,436.53 L151.04,437.25 L152.05,437.96 L153.07,438.65 L154.08,439.33 L155.10,440.00 L156.11,440.66 L157.13,441.30 L158.14,441.93 L159.16,442.55 L160.17,443.15 L161.19,443.75 L162.21,444.33 L163.22,444.89 L164.24,445.45 L165.25,445.99 L166.27,446.52 L167.28,447.04 L168.30,447.54 L169.31,448.04 L170.33,448.52 L171.34,448.99 L172.36,449.45 L173.38,449.89 L174.39,450.33 L175.41,450.75 L176.42,451.16 L177.44,451.56 L178.45,451.95 L179.47,452.33 L180.48,452.69 L181.50,453.05 L182.51,453.39 L183.53,453.73 L184.55,454.05 L185.56,454.36 L186.58,454.66 L187.59,454.95 L188.61,455.23 L189.62,455.50 L190.64,455.76 L191.65,456.01 L192.67,456.25 L193.68,456.48 L194.70,456.70 L195.72,456.90 L196.73,457.10 L197.75,457.29 L198.76,457.47 L199.78,457.64 L200.79,457.80 L201.81,457.95 L202.82,458.10 L203.84,458.23 L204.85,458.35 L205.87,458.47 L206.88,458.57 L207.90,458.67 L208.92,458.76 L209.93,458.84 L210.95,458.91 L211.96,458.98 L212.98,459.03 L213.99,459.08 L215.01,459.12 L216.02,459.15 L217.04,459.17 L218.05,459.18 L219.07,459.19 L220.09,459.19 L221.10,459.18 L222.12,459.17 L223.13,459.15 L224.15,459.12 L225.16,459.08 L226.18,459.03 L227.19,458.98 L228.21,458.93 L229.22,458.86 L230.24,458.79 L231.26,458.71 L232.27,458.63 L233.29,458.54 L234.30,458.44 L235.32,458.34 L236.33,458.23 L237.35,458.12 L238.36,457.99 L239.38,457.87 L240.39,457.74 L241.41,457.60 L242.43,457.45 L243.44,457.30 L244.46,457.15 L245.47,456.99 L246.49,456.82 L247.50,456.65 L248.52,456.48 L249.53,456.29 L250.55,456.11 L251.56,455.92 L252.58,455.72 L253.60,455.52 L254.61,455.31 L255.63,455.10 L256.64,454.89 L257.66,454.66 L258.67,454.44 L259.69,454.21 L260.70,453.97 L261.72,453.73 L262.73,453.49 L263.75,453.24 L264.77,452.98 L265.78,452.72 L266.80,452.46 L267.81,452.19 L268.83,451.92 L269.84,451.64 L270.86,451.35 L271.87,451.06 L272.89,450.77 L273.90,450.46 L274.92,450.16 L275.94,449.85 L276.95,449.53 L277.97,449.20 L278.98,448.87 L280.00,448.54 L281.01,448.19 L282.03,447.84 L283.04,447.48 L284.06,447.12 L285.07,446.74 L286.09,446.36 L287.11,445.97 L288.12,445.57 L289.14,445.16 L290.15,444.74 L291.17,444.32 L292.18,443.88 L293.20,443.43 L294.21,442.96 L295.23,442.49 L296.24,442.00 L297.26,441.49 L298.27,440.98 L299.29,440.44 L300.31,439.89 L301.32,439.32 L302.34,438.74 L303.35,438.13 L304.37,437.50 L305.38,436.85 L306.40,436.18 L307.41,435.48 L308.43,434.75 L309.44,434.00 L310.46,433.21 L311.48,432.39 L312.49,431.54 L313.51,430.65 L314.52,429.72 L315.54,428.75 L316.55,427.74 L317.57,426.67 L318.58,425.56 L319.60,424.39 L320.61,423.16 L321.63,421.86 L322.65,420.50 L323.66,419.06 L324.68,417.55 L325.69,415.94 L326.71,414.25 L327.72,412.45 L328.74,410.55 L329.75,408.53 L330.77,406.38 L331.78,404.09 L332.80,401.65" fill="none" stroke="#ff0000" stroke-width="2.8"/>
<path d="M69.80,326.76 L70.82,330.66 L71.83,333.89 L72.85,336.86 L73.86,339.66 L74.88,342.33 L75.89,344.90 L76.91,347.37 L77.92,349.76 L78.94,352.08 L79.95,354.34 L80.97,356.54 L81.99,358.68 L83.00,360.78 L84.02,362.82 L85.03,364.83 L86.05,366.79 L87.06,368.70 L88.08,370.58 L89.09,372.43 L90.11,374.23 L91.12,376.00 L92.14,377.74 L93.16,379.45 L94.17,381.12 L95.19,382.77 L96.20,384.38 L97.22,385.97 L98.23,387.53 L99.25,389.06 L100.26,390.56 L101.28,392.04 L102.29,393.49 L103.31,394.92 L104.33,396.32 L105.34,397.69 L106.36,399.05 L107.37,400.38 L108.39,401.68 L109.40,402.97 L110.42,404.23 L111.43,405.47 L112.45,406.69 L113.46,407.88 L114.48,409.06 L115.49,410.21 L116.51,411.35 L117.53,412.46 L118.54,413.56 L119.56,414.63 L120.57,415.68 L121.59,416.72 L122.60,417.73 L123.62,418.73 L124.63,419.71 L125.65,420.66 L126.66,421.60 L127.68,422.53 L128.70,423.43 L129.71,424.31 L130.73,425.18 L131.74,426.03 L132.76,426.86 L133.77,427.68 L134.79,428.48 L135.80,429.26 L136.82,430.02 L137.83,430.77 L138.85,431.50 L139.87,432.21 L140.88,432.90 L141.90,433.58 L142.91,434.25 L143.93,434.89 L144.94,435.52 L145.96,436.14 L146.97,436.74 L147.99,437.32 L149.00,437.89 L150.02,438.44 L151.04,438.97 L152.05,439.49 L153.07,439.99 L154.08,440.48 L155.10,440.95 L156.11,441.41 L157.13,441.85 L158.14,442.28 L159.16,442.69 L160.17,443.08 L161.19,443.47 L162.21,443.83 L163.22,444.18 L164.24,444.52 L165.25,444.84 L166.27,445.14 L167.28,445.43 L168.30,445.71 L169.31,445.97 L170.33,446.22 L171.34,446.45 L172.36,446.66 L173.38,446.87 L174.39,447.05 L175.41,447.23 L176.42,447.38 L177.44,447.53 L178.45,447.66 L179.47,447.77 L180.48,447.87 L181.50,447.96 L182.51,448.03 L183.53,448.08 L184.55,448.13 L185.56,448.15 L186.58,448.17 L187.59,448.16 L188.61,448.15 L189.62,448.12 L190.64,448.07 L191.65,448.01 L192.67,447.94 L193.68,447.85 L194.70,447.75 L195.72,447.63 L196.73,447.50 L197.75,447.35 L198.76,447.19 L199.78,447.02 L200.79,446.83 L201.81,446.62 L202.82,446.41 L203.84,446.17 L204.85,445.92 L205.87,445.66 L206.88,445.39 L207.90,445.09 L208.92,444.79 L209.93,444.47 L210.95,444.13 L211.96,443.78 L212.98,443.42 L213.99,443.04 L215.01,442.65 L216.02,442.24 L217.04,441.81 L218.05,441.37 L219.07,440.92 L220.09,440.45 L221.10,439.97 L222.12,439.47 L223.13,438.96 L224.15,438.43 L225.16,437.89 L226.18,437.33 L227.19,436.76 L228.21,436.17 L229.22,435.57 L230.24,434.95 L231.26,434.31 L232.27,433.66 L233.29,433.00 L234.30,432.32 L235.32,431.62 L236.33,430.91 L237.35,430.19 L238.36,429.44 L239.38,428.69 L240.39,427.91 L241.41,427.12 L242.43,426.32 L243.44,425.50 L244.46,424.66 L245.47,423.81 L246.49,422.94 L247.50,422.06 L248.52,421.16 L249.53,420.24 L250.55,419.31 L251.56,418.36 L252.58,417.39 L253.60,416.41 L254.61,415.41 L255.63,414.39 L256.64,413.36 L257.66,412.31 L258.67,411.25 L259.69,410.17 L260.70,409.07 L261.72,407.95 L262.73,406.82 L263.75,405.67 L264.77,404.50 L265.78,403.32 L266.80,402.12 L267.81,400.90 L268.83,399.66 L269.84,398.41 L270.86,397.13 L271.87,395.84 L272.89,394.54 L273.90,393.21 L274.92,391.87 L275.94,390.51 L276.95,389.13 L277.97,387.73 L278.98,386.32 L280.00,384.88 L281.01,383.43 L282.03,381.96 L283.04,380.47 L284.06,378.97 L285.07,377.44 L286.09,375.89 L287.11,374.33 L288.12,372.75 L289.14,371.14 L290.15,369.52 L291.17,367.88 L292.18,366.22 L293.20,364.54 L294.21,362.84 L295.23,361.12 L296.24,359.38 L297.26,357.63 L298.27,355.85 L299.29,354.05 L300.31,352.23 L301.32,350.39 L302.34,348.53 L303.35,346.65 L304.37,344.75 L305.38,342.83 L306.40,340.89 L307.41,338.92 L308.43,336.94 L309.44,334.93 L310.46,332.91 L311.48,330.86 L312.49,328.79 L313.51,326.70 L314.52,324.59 L315.54,322.45 L316.55,320.30 L317.57,318.12 L318.58,315.92 L319.60,313.69 L320.61,311.45 L321.63,309.18 L322.65,306.89 L323.66,304.58 L324.68,302.24 L325.69,299.89 L326.71,297.50 L327.72,295.10 L328.74,292.67 L329.75,290.22 L330.77,287.74 L331.78,285.25 L332.80,282.72" fill="none" stroke="#0000ff" stroke-width="2.8" stroke-dasharray="2.5,4.125"/>
<line x1="154.1" y1="450.6" x2="186" y2="450.6" stroke="#000" stroke-width="1.8"/>
<line x1="159.8" y1="454.1" x2="202.3" y2="454.1" stroke="#000" stroke-width="1.8"/>
<rect x="168.00" y="444.90" width="3.8" height="11.20" fill="#000" fill-opacity="0.9"/>
<rect x="164.30" y="448.50" width="11.20" height="4.0" fill="#000" fill-opacity="0.9"/>
<rect x="178.60" y="448.60" width="3.8" height="11.20" fill="#000" fill-opacity="0.9"/>
<rect x="174.90" y="452.20" width="11.20" height="4.0" fill="#000" fill-opacity="0.9"/>
</g>
<rect x="69.8" y="272.7" width="263.00" height="196.00" fill="none" stroke="#000" stroke-width="1.45"/>
<line x1="69.80" y1="468.7" x2="69.80" y2="463.70" stroke="#000" stroke-width="1.45"/>
<text transform="scale(1.0958,1)" x="58.86" y="487.20" font-size="17.40">0</text>
<line x1="122.40" y1="468.7" x2="122.40" y2="463.70" stroke="#000" stroke-width="1.45"/>
<text transform="scale(1.0958,1)" x="102.02 111.70" y="487.20" font-size="17.40">10</text>
<line x1="175.00" y1="468.7" x2="175.00" y2="463.70" stroke="#000" stroke-width="1.45"/>
<text transform="scale(1.0958,1)" x="150.03 159.70" y="487.20" font-size="17.40">20</text>
<line x1="227.60" y1="468.7" x2="227.60" y2="463.70" stroke="#000" stroke-width="1.45"/>
<text transform="scale(1.0958,1)" x="198.03 207.71" y="487.20" font-size="17.40">30</text>
<line x1="280.20" y1="468.7" x2="280.20" y2="463.70" stroke="#000" stroke-width="1.45"/>
<text transform="scale(1.0958,1)" x="246.03 255.71" y="487.20" font-size="17.40">40</text>
<line x1="332.80" y1="468.7" x2="332.80" y2="463.70" stroke="#000" stroke-width="1.45"/>
<text transform="scale(1.0958,1)" x="294.03 303.71" y="487.20" font-size="17.40">50</text>
<line x1="69.8" y1="467.20" x2="74.80" y2="467.20" stroke="#000" stroke-width="1.45"/>
<text transform="scale(1.1782,1)" x="20.47 32.33 41.33 45.83" y="473.00" font-size="17.40">−0.1</text>
<line x1="69.8" y1="415.40" x2="74.80" y2="415.40" stroke="#000" stroke-width="1.45"/>
<text transform="scale(1.0958,1)" x="34.76 44.44 49.27" y="421.20" font-size="17.40">0.0</text>
<line x1="69.8" y1="363.60" x2="74.80" y2="363.60" stroke="#000" stroke-width="1.45"/>
<text transform="scale(1.0958,1)" x="34.76 44.44 49.27" y="369.40" font-size="17.40">0.1</text>
<line x1="69.8" y1="311.80" x2="74.80" y2="311.80" stroke="#000" stroke-width="1.45"/>
<text transform="scale(1.0958,1)" x="34.76 44.44 49.27" y="317.60" font-size="17.40">0.2</text>
<g clip-path="url(#clipD)">
<path d="M411.80,313.05 L412.82,316.98 L413.83,320.23 L414.85,323.22 L415.86,326.04 L416.88,328.73 L417.89,331.32 L418.91,333.82 L419.92,336.24 L420.94,338.60 L421.95,340.89 L422.97,343.14 L423.99,345.33 L425.00,347.47 L426.02,349.57 L427.03,351.64 L428.05,353.66 L429.06,355.64 L430.08,357.59 L431.09,359.51 L432.11,361.39 L433.12,363.24 L434.14,365.06 L435.16,366.86 L436.17,368.62 L437.19,370.36 L438.20,372.07 L439.22,373.75 L440.23,375.42 L441.25,377.05 L442.26,378.66 L443.28,380.25 L444.29,381.81 L445.31,383.36 L446.33,384.88 L447.34,386.37 L448.36,387.85 L449.37,389.31 L450.39,390.74 L451.40,392.15 L452.42,393.55 L453.43,394.92 L454.45,396.27 L455.46,397.60 L456.48,398.92 L457.49,400.21 L458.51,401.49 L459.53,402.75 L460.54,403.98 L461.56,405.20 L462.57,406.40 L463.59,407.59 L464.60,408.75 L465.62,409.90 L466.63,411.03 L467.65,412.14 L468.66,413.23 L469.68,414.31 L470.70,415.37 L471.71,416.41 L472.73,417.43 L473.74,418.44 L474.76,419.43 L475.77,420.40 L476.79,421.35 L477.80,422.29 L478.82,423.21 L479.83,424.12 L480.85,425.01 L481.87,425.88 L482.88,426.73 L483.90,427.57 L484.91,428.39 L485.93,429.20 L486.94,429.99 L487.96,430.76 L488.97,431.51 L489.99,432.25 L491.00,432.98 L492.02,433.68 L493.04,434.37 L494.05,435.05 L495.07,435.71 L496.08,436.35 L497.10,436.97 L498.11,437.58 L499.13,438.18 L500.14,438.75 L501.16,439.31 L502.17,439.86 L503.19,440.39 L504.21,440.90 L505.22,441.40 L506.24,441.88 L507.25,442.34 L508.27,442.79 L509.28,443.23 L510.30,443.64 L511.31,444.04 L512.33,444.43 L513.34,444.79 L514.36,445.15 L515.38,445.48 L516.39,445.80 L517.41,446.11 L518.42,446.40 L519.44,446.67 L520.45,446.92 L521.47,447.16 L522.48,447.39 L523.50,447.60 L524.51,447.79 L525.53,447.96 L526.55,448.12 L527.56,448.27 L528.58,448.39 L529.59,448.50 L530.61,448.60 L531.62,448.68 L532.64,448.74 L533.65,448.79 L534.67,448.82 L535.68,448.83 L536.70,448.83 L537.72,448.81 L538.73,448.78 L539.75,448.72 L540.76,448.66 L541.78,448.57 L542.79,448.47 L543.81,448.36 L544.82,448.22 L545.84,448.08 L546.85,447.91 L547.87,447.73 L548.88,447.53 L549.90,447.32 L550.92,447.08 L551.93,446.84 L552.95,446.57 L553.96,446.29 L554.98,446.00 L555.99,445.68 L557.01,445.35 L558.02,445.00 L559.04,444.64 L560.05,444.26 L561.07,443.86 L562.09,443.45 L563.10,443.02 L564.12,442.57 L565.13,442.11 L566.15,441.63 L567.16,441.13 L568.18,440.62 L569.19,440.09 L570.21,439.54 L571.22,438.98 L572.24,438.40 L573.26,437.80 L574.27,437.18 L575.29,436.55 L576.30,435.90 L577.32,435.24 L578.33,434.55 L579.35,433.85 L580.36,433.14 L581.38,432.40 L582.39,431.65 L583.41,430.88 L584.43,430.10 L585.44,429.29 L586.46,428.47 L587.47,427.63 L588.49,426.78 L589.50,425.91 L590.52,425.02 L591.53,424.11 L592.55,423.19 L593.56,422.25 L594.58,421.29 L595.60,420.31 L596.61,419.32 L597.63,418.31 L598.64,417.28 L599.66,416.23 L600.67,415.17 L601.69,414.09 L602.70,412.99 L603.72,411.87 L604.73,410.74 L605.75,409.59 L606.77,408.42 L607.78,407.23 L608.80,406.03 L609.81,404.80 L610.83,403.56 L611.84,402.31 L612.86,401.03 L613.87,399.74 L614.89,398.42 L615.90,397.09 L616.92,395.75 L617.94,394.38 L618.95,393.00 L619.97,391.60 L620.98,390.18 L622.00,388.74 L623.01,387.28 L624.03,385.81 L625.04,384.32 L626.06,382.81 L627.07,381.28 L628.09,379.73 L629.11,378.17 L630.12,376.59 L631.14,374.98 L632.15,373.37 L633.17,371.73 L634.18,370.07 L635.20,368.40 L636.21,366.70 L637.23,364.99 L638.24,363.26 L639.26,361.52 L640.27,359.75 L641.29,357.96 L642.31,356.16 L643.32,354.34 L644.34,352.50 L645.35,350.64 L646.37,348.76 L647.38,346.86 L648.40,344.95 L649.41,343.01 L650.43,341.06 L651.44,339.09 L652.46,337.10 L653.48,335.09 L654.49,333.06 L655.51,331.01 L656.52,328.95 L657.54,326.86 L658.55,324.76 L659.57,322.64 L660.58,320.50 L661.60,318.34 L662.61,316.16 L663.63,313.96 L664.65,311.74 L665.66,309.51 L666.68,307.25 L667.69,304.98 L668.71,302.68 L669.72,300.37 L670.74,298.04 L671.75,295.69 L672.77,293.32 L673.78,290.93 L674.80,288.52" fill="none" stroke="#bf00bf" stroke-width="2.2" stroke-opacity="0.5"/>
<path d="M411.80,308.86 L412.82,313.10 L413.83,316.60 L414.85,319.81 L415.86,322.84 L416.88,325.72 L417.89,328.49 L418.91,331.16 L419.92,333.75 L420.94,336.27 L421.95,338.71 L422.97,341.10 L423.99,343.43 L425.00,345.71 L426.02,347.94 L427.03,350.12 L428.05,352.26 L429.06,354.36 L430.08,356.41 L431.09,358.43 L432.11,360.42 L433.12,362.37 L434.14,364.28 L435.16,366.16 L436.17,368.01 L437.19,369.84 L438.20,371.63 L439.22,373.39 L440.23,375.12 L441.25,376.83 L442.26,378.51 L443.28,380.16 L444.29,381.79 L445.31,383.39 L446.33,384.97 L447.34,386.52 L448.36,388.05 L449.37,389.55 L450.39,391.03 L451.40,392.49 L452.42,393.93 L453.43,395.35 L454.45,396.74 L455.46,398.11 L456.48,399.46 L457.49,400.79 L458.51,402.10 L459.53,403.38 L460.54,404.65 L461.56,405.90 L462.57,407.13 L463.59,408.33 L464.60,409.52 L465.62,410.69 L466.63,411.84 L467.65,412.97 L468.66,414.08 L469.68,415.17 L470.70,416.25 L471.71,417.30 L472.73,418.34 L473.74,419.36 L474.76,420.36 L475.77,421.34 L476.79,422.30 L477.80,423.25 L478.82,424.18 L479.83,425.09 L480.85,425.99 L481.87,426.86 L482.88,427.72 L483.90,428.56 L484.91,429.39 L485.93,430.19 L486.94,430.98 L487.96,431.76 L488.97,432.51 L489.99,433.25 L491.00,433.97 L492.02,434.68 L493.04,435.37 L494.05,436.04 L495.07,436.70 L496.08,437.34 L497.10,437.96 L498.11,438.56 L499.13,439.15 L500.14,439.73 L501.16,440.28 L502.17,440.82 L503.19,441.35 L504.21,441.86 L505.22,442.35 L506.24,442.82 L507.25,443.28 L508.27,443.73 L509.28,444.15 L510.30,444.56 L511.31,444.96 L512.33,445.34 L513.34,445.70 L514.36,446.05 L515.38,446.38 L516.39,446.69 L517.41,446.99 L518.42,447.27 L519.44,447.54 L520.45,447.79 L521.47,448.03 L522.48,448.25 L523.50,448.45 L524.51,448.64 L525.53,448.81 L526.55,448.96 L527.56,449.10 L528.58,449.23 L529.59,449.33 L530.61,449.43 L531.62,449.50 L532.64,449.56 L533.65,449.61 L534.67,449.63 L535.68,449.65 L536.70,449.64 L537.72,449.62 L538.73,449.59 L539.75,449.54 L540.76,449.47 L541.78,449.39 L542.79,449.29 L543.81,449.17 L544.82,449.04 L545.84,448.89 L546.85,448.73 L547.87,448.55 L548.88,448.36 L549.90,448.14 L550.92,447.92 L551.93,447.67 L552.95,447.42 L553.96,447.14 L554.98,446.85 L555.99,446.54 L557.01,446.22 L558.02,445.88 L559.04,445.52 L560.05,445.15 L561.07,444.76 L562.09,444.36 L563.10,443.93 L564.12,443.50 L565.13,443.04 L566.15,442.57 L567.16,442.09 L568.18,441.58 L569.19,441.07 L570.21,440.53 L571.22,439.98 L572.24,439.41 L573.26,438.83 L574.27,438.22 L575.29,437.61 L576.30,436.97 L577.32,436.32 L578.33,435.65 L579.35,434.97 L580.36,434.27 L581.38,433.55 L582.39,432.82 L583.41,432.06 L584.43,431.30 L585.44,430.51 L586.46,429.71 L587.47,428.89 L588.49,428.06 L589.50,427.20 L590.52,426.33 L591.53,425.45 L592.55,424.54 L593.56,423.62 L594.58,422.68 L595.60,421.73 L596.61,420.76 L597.63,419.77 L598.64,418.76 L599.66,417.74 L600.67,416.70 L601.69,415.64 L602.70,414.56 L603.72,413.47 L604.73,412.36 L605.75,411.23 L606.77,410.08 L607.78,408.92 L608.80,407.74 L609.81,406.54 L610.83,405.32 L611.84,404.09 L612.86,402.83 L613.87,401.56 L614.89,400.27 L615.90,398.97 L616.92,397.64 L617.94,396.30 L618.95,394.94 L619.97,393.56 L620.98,392.17 L622.00,390.75 L623.01,389.32 L624.03,387.87 L625.04,386.40 L626.06,384.91 L627.07,383.40 L628.09,381.88 L629.11,380.34 L630.12,378.77 L631.14,377.19 L632.15,375.59 L633.17,373.98 L634.18,372.34 L635.20,370.68 L636.21,369.01 L637.23,367.32 L638.24,365.61 L639.26,363.87 L640.27,362.12 L641.29,360.35 L642.31,358.57 L643.32,356.76 L644.34,354.93 L645.35,353.09 L646.37,351.22 L647.38,349.34 L648.40,347.43 L649.41,345.51 L650.43,343.57 L651.44,341.60 L652.46,339.62 L653.48,337.62 L654.49,335.60 L655.51,333.55 L656.52,331.49 L657.54,329.41 L658.55,327.31 L659.57,325.19 L660.58,323.05 L661.60,320.88 L662.61,318.70 L663.63,316.50 L664.65,314.28 L665.66,312.04 L666.68,309.77 L667.69,307.49 L668.71,305.18 L669.72,302.86 L670.74,300.51 L671.75,298.15 L672.77,295.76 L673.78,293.35 L674.80,290.93" fill="none" stroke="#008000" stroke-width="2.2" stroke-opacity="0.5"/>
<path d="M411.80,303.04 L412.82,307.37 L413.83,310.97 L414.85,314.29 L415.86,317.43 L416.88,320.42 L417.89,323.30 L418.91,326.07 L419.92,328.77 L420.94,331.38 L421.95,333.93 L422.97,336.42 L423.99,338.85 L425.00,341.22 L426.02,343.54 L427.03,345.82 L428.05,348.05 L429.06,350.23 L430.08,352.38 L431.09,354.48 L432.11,356.55 L433.12,358.58 L434.14,360.58 L435.16,362.54 L436.17,364.46 L437.19,366.36 L438.20,368.22 L439.22,370.06 L440.23,371.86 L441.25,373.63 L442.26,375.38 L443.28,377.10 L444.29,378.78 L445.31,380.45 L446.33,382.08 L447.34,383.69 L448.36,385.28 L449.37,386.84 L450.39,388.38 L451.40,389.89 L452.42,391.37 L453.43,392.84 L454.45,394.28 L455.46,395.69 L456.48,397.09 L457.49,398.46 L458.51,399.81 L459.53,401.14 L460.54,402.45 L461.56,403.73 L462.57,404.99 L463.59,406.24 L464.60,407.46 L465.62,408.66 L466.63,409.84 L467.65,411.00 L468.66,412.14 L469.68,413.27 L470.70,414.37 L471.71,415.45 L472.73,416.51 L473.74,417.55 L474.76,418.58 L475.77,419.58 L476.79,420.57 L477.80,421.53 L478.82,422.48 L479.83,423.41 L480.85,424.32 L481.87,425.22 L482.88,426.09 L483.90,426.95 L484.91,427.79 L485.93,428.61 L486.94,429.41 L487.96,430.20 L488.97,430.97 L489.99,431.72 L491.00,432.45 L492.02,433.16 L493.04,433.86 L494.05,434.54 L495.07,435.20 L496.08,435.85 L497.10,436.48 L498.11,437.09 L499.13,437.69 L500.14,438.26 L501.16,438.83 L502.17,439.37 L503.19,439.90 L504.21,440.41 L505.22,440.90 L506.24,441.38 L507.25,441.84 L508.27,442.29 L509.28,442.71 L510.30,443.13 L511.31,443.52 L512.33,443.90 L513.34,444.26 L514.36,444.61 L515.38,444.94 L516.39,445.25 L517.41,445.55 L518.42,445.83 L519.44,446.09 L520.45,446.34 L521.47,446.58 L522.48,446.79 L523.50,446.99 L524.51,447.18 L525.53,447.35 L526.55,447.50 L527.56,447.63 L528.58,447.75 L529.59,447.86 L530.61,447.95 L531.62,448.02 L532.64,448.07 L533.65,448.11 L534.67,448.14 L535.68,448.15 L536.70,448.14 L537.72,448.12 L538.73,448.08 L539.75,448.02 L540.76,447.95 L541.78,447.86 L542.79,447.76 L543.81,447.64 L544.82,447.50 L545.84,447.35 L546.85,447.19 L547.87,447.00 L548.88,446.80 L549.90,446.59 L550.92,446.36 L551.93,446.11 L552.95,445.85 L553.96,445.57 L554.98,445.28 L555.99,444.96 L557.01,444.64 L558.02,444.29 L559.04,443.94 L560.05,443.56 L561.07,443.17 L562.09,442.76 L563.10,442.34 L564.12,441.90 L565.13,441.44 L566.15,440.97 L567.16,440.49 L568.18,439.98 L569.19,439.46 L570.21,438.92 L571.22,438.37 L572.24,437.80 L573.26,437.22 L574.27,436.62 L575.29,436.00 L576.30,435.36 L577.32,434.71 L578.33,434.05 L579.35,433.36 L580.36,432.66 L581.38,431.94 L582.39,431.21 L583.41,430.46 L584.43,429.69 L585.44,428.91 L586.46,428.11 L587.47,427.30 L588.49,426.46 L589.50,425.61 L590.52,424.75 L591.53,423.86 L592.55,422.96 L593.56,422.04 L594.58,421.11 L595.60,420.16 L596.61,419.19 L597.63,418.20 L598.64,417.20 L599.66,416.18 L600.67,415.14 L601.69,414.09 L602.70,413.02 L603.72,411.93 L604.73,410.82 L605.75,409.70 L606.77,408.56 L607.78,407.40 L608.80,406.23 L609.81,405.03 L610.83,403.82 L611.84,402.59 L612.86,401.35 L613.87,400.08 L614.89,398.80 L615.90,397.50 L616.92,396.18 L617.94,394.85 L618.95,393.49 L619.97,392.12 L620.98,390.73 L622.00,389.32 L623.01,387.90 L624.03,386.45 L625.04,384.99 L626.06,383.51 L627.07,382.01 L628.09,380.49 L629.11,378.95 L630.12,377.40 L631.14,375.82 L632.15,374.23 L633.17,372.62 L634.18,370.99 L635.20,369.34 L636.21,367.67 L637.23,365.99 L638.24,364.28 L639.26,362.56 L640.27,360.81 L641.29,359.05 L642.31,357.27 L643.32,355.46 L644.34,353.64 L645.35,351.80 L646.37,349.94 L647.38,348.06 L648.40,346.16 L649.41,344.24 L650.43,342.30 L651.44,340.34 L652.46,338.36 L653.48,336.36 L654.49,334.34 L655.51,332.30 L656.52,330.24 L657.54,328.16 L658.55,326.06 L659.57,323.94 L660.58,321.80 L661.60,319.64 L662.61,317.46 L663.63,315.25 L664.65,313.03 L665.66,310.78 L666.68,308.52 L667.69,306.23 L668.71,303.92 L669.72,301.59 L670.74,299.24 L671.75,296.87 L672.77,294.48 L673.78,292.06 L674.80,289.63" fill="none" stroke="#0000ff" stroke-width="2.2" stroke-opacity="0.5"/>
<path d="M411.80,313.05 L412.82,316.98 L413.83,320.23 L414.85,323.22 L415.86,326.04 L416.88,328.73 L417.89,331.32 L418.91,333.82 L419.92,336.24 L420.94,338.60 L421.95,340.89 L422.97,343.14 L423.99,345.33 L425.00,347.47 L426.02,349.57 L427.03,351.64 L428.05,353.66 L429.06,355.64 L430.08,357.59 L431.09,359.51 L432.11,361.39 L433.12,363.24 L434.14,365.06 L435.16,366.86 L436.17,368.62 L437.19,370.36 L438.20,372.07 L439.22,373.75 L440.23,375.42 L441.25,377.05 L442.26,378.66 L443.28,380.25 L444.29,381.81 L445.31,383.36 L446.33,384.88 L447.34,386.37 L448.36,387.85 L449.37,389.31 L450.39,390.74 L451.40,392.15 L452.42,393.55 L453.43,394.92 L454.45,396.27 L455.46,397.60 L456.48,398.92 L457.49,400.21 L458.51,401.49 L459.53,402.75 L460.54,403.98 L461.56,405.20 L462.57,406.40 L463.59,407.59 L464.60,408.75 L465.62,409.90 L466.63,411.03 L467.65,412.14 L468.66,413.23 L469.68,414.31 L470.70,415.37 L471.71,416.41 L472.73,417.43 L473.74,418.44 L474.76,419.43 L475.77,420.40 L476.79,421.35 L477.80,422.29 L478.82,423.21 L479.83,424.12 L480.85,425.01 L481.87,425.88 L482.88,426.73 L483.90,427.57 L484.91,428.39 L485.93,429.20 L486.94,429.99 L487.96,430.76 L488.97,431.51 L489.99,432.25 L491.00,432.98 L492.02,433.68 L493.04,434.37 L494.05,435.05 L495.07,435.71 L496.08,436.35 L497.10,436.97 L498.11,437.58 L499.13,438.18 L500.14,438.75 L501.16,439.31 L502.17,439.86 L503.19,440.39 L504.21,440.90 L505.22,441.40 L506.24,441.88 L507.25,442.34 L508.27,442.79 L509.28,443.23 L510.30,443.64 L511.31,444.04 L512.33,444.43 L513.34,444.79 L514.36,445.15 L515.38,445.48 L516.39,445.80 L517.41,446.11 L518.42,446.40 L519.44,446.67 L520.45,446.92 L521.47,447.16 L522.48,447.39 L523.50,447.60 L524.51,447.79 L525.53,447.96 L526.55,448.12 L527.56,448.27 L528.58,448.39 L529.59,448.50 L530.61,448.60 L531.62,448.68 L532.64,448.74 L533.65,448.79 L534.67,448.82 L535.68,448.83 L536.70,448.83 L537.72,448.81 L538.73,448.78 L539.75,448.72 L540.76,448.66 L541.78,448.57 L542.79,448.47 L543.81,448.36 L544.82,448.22 L545.84,448.08 L546.85,447.91 L547.87,447.73 L548.88,447.53 L549.90,447.32 L550.92,447.08 L551.93,446.84 L552.95,446.57 L553.96,446.29 L554.98,446.00 L555.99,445.68 L557.01,445.35 L558.02,445.00 L559.04,444.64 L560.05,444.26 L561.07,443.86 L562.09,443.45 L563.10,443.02 L564.12,442.57 L565.13,442.11 L566.15,441.63 L567.16,441.13 L568.18,440.62 L569.19,440.09 L570.21,439.54 L571.22,438.98 L572.24,438.40 L573.26,437.80 L574.27,437.18 L575.29,436.55 L576.30,435.90 L577.32,435.24 L578.33,434.55 L579.35,433.85 L580.36,433.14 L581.38,432.40 L582.39,431.65 L583.41,430.88 L584.43,430.10 L585.44,429.29 L586.46,428.47 L587.47,427.63 L588.49,426.78 L589.50,425.91 L590.52,425.02 L591.53,424.11 L592.55,423.19 L593.56,422.25 L594.58,421.29 L595.60,420.31 L596.61,419.32 L597.63,418.31 L598.64,417.28 L599.66,416.23 L600.67,415.17 L601.69,414.09 L602.70,412.99 L603.72,411.87 L604.73,410.74 L605.75,409.59 L606.77,408.42 L607.78,407.23 L608.80,406.03 L609.81,404.80 L610.83,403.56 L611.84,402.31 L612.86,401.03 L613.87,399.74 L614.89,398.42 L615.90,397.09 L616.92,395.75 L617.94,394.38 L618.95,393.00 L619.97,391.60 L620.98,390.18 L622.00,388.74 L623.01,387.28 L624.03,385.81 L625.04,384.32 L626.06,382.81 L627.07,381.28 L628.09,379.73 L629.11,378.17 L630.12,376.59 L631.14,374.98 L632.15,373.37 L633.17,371.73 L634.18,370.07 L635.20,368.40 L636.21,366.70 L637.23,364.99 L638.24,363.26 L639.26,361.52 L640.27,359.75 L641.29,357.96 L642.31,356.16 L643.32,354.34 L644.34,352.50 L645.35,350.64 L646.37,348.76 L647.38,346.86 L648.40,344.95 L649.41,343.01 L650.43,341.06 L651.44,339.09 L652.46,337.10 L653.48,335.09 L654.49,333.06 L655.51,331.01 L656.52,328.95 L657.54,326.86 L658.55,324.76 L659.57,322.64 L660.58,320.50 L661.60,318.34 L662.61,316.16 L663.63,313.96 L664.65,311.74 L665.66,309.51 L666.68,307.25 L667.69,304.98 L668.71,302.68 L669.72,300.37 L670.74,298.04 L671.75,295.69 L672.77,293.32 L673.78,290.93 L674.80,288.52" fill="none" stroke="#bf00bf" stroke-width="2.8" stroke-dasharray="9.25,4.0"/>
<path d="M411.80,308.86 L412.82,313.10 L413.83,316.60 L414.85,319.81 L415.86,322.84 L416.88,325.72 L417.89,328.49 L418.91,331.16 L419.92,333.75 L420.94,336.27 L421.95,338.71 L422.97,341.10 L423.99,343.43 L425.00,345.71 L426.02,347.94 L427.03,350.12 L428.05,352.26 L429.06,354.36 L430.08,356.41 L431.09,358.43 L432.11,360.42 L433.12,362.37 L434.14,364.28 L435.16,366.16 L436.17,368.01 L437.19,369.84 L438.20,371.63 L439.22,373.39 L440.23,375.12 L441.25,376.83 L442.26,378.51 L443.28,380.16 L444.29,381.79 L445.31,383.39 L446.33,384.97 L447.34,386.52 L448.36,388.05 L449.37,389.55 L450.39,391.03 L451.40,392.49 L452.42,393.93 L453.43,395.35 L454.45,396.74 L455.46,398.11 L456.48,399.46 L457.49,400.79 L458.51,402.10 L459.53,403.38 L460.54,404.65 L461.56,405.90 L462.57,407.13 L463.59,408.33 L464.60,409.52 L465.62,410.69 L466.63,411.84 L467.65,412.97 L468.66,414.08 L469.68,415.17 L470.70,416.25 L471.71,417.30 L472.73,418.34 L473.74,419.36 L474.76,420.36 L475.77,421.34 L476.79,422.30 L477.80,423.25 L478.82,424.18 L479.83,425.09 L480.85,425.99 L481.87,426.86 L482.88,427.72 L483.90,428.56 L484.91,429.39 L485.93,430.19 L486.94,430.98 L487.96,431.76 L488.97,432.51 L489.99,433.25 L491.00,433.97 L492.02,434.68 L493.04,435.37 L494.05,436.04 L495.07,436.70 L496.08,437.34 L497.10,437.96 L498.11,438.56 L499.13,439.15 L500.14,439.73 L501.16,440.28 L502.17,440.82 L503.19,441.35 L504.21,441.86 L505.22,442.35 L506.24,442.82 L507.25,443.28 L508.27,443.73 L509.28,444.15 L510.30,444.56 L511.31,444.96 L512.33,445.34 L513.34,445.70 L514.36,446.05 L515.38,446.38 L516.39,446.69 L517.41,446.99 L518.42,447.27 L519.44,447.54 L520.45,447.79 L521.47,448.03 L522.48,448.25 L523.50,448.45 L524.51,448.64 L525.53,448.81 L526.55,448.96 L527.56,449.10 L528.58,449.23 L529.59,449.33 L530.61,449.43 L531.62,449.50 L532.64,449.56 L533.65,449.61 L534.67,449.63 L535.68,449.65 L536.70,449.64 L537.72,449.62 L538.73,449.59 L539.75,449.54 L540.76,449.47 L541.78,449.39 L542.79,449.29 L543.81,449.17 L544.82,449.04 L545.84,448.89 L546.85,448.73 L547.87,448.55 L548.88,448.36 L549.90,448.14 L550.92,447.92 L551.93,447.67 L552.95,447.42 L553.96,447.14 L554.98,446.85 L555.99,446.54 L557.01,446.22 L558.02,445.88 L559.04,445.52 L560.05,445.15 L561.07,444.76 L562.09,444.36 L563.10,443.93 L564.12,443.50 L565.13,443.04 L566.15,442.57 L567.16,442.09 L568.18,441.58 L569.19,441.07 L570.21,440.53 L571.22,439.98 L572.24,439.41 L573.26,438.83 L574.27,438.22 L575.29,437.61 L576.30,436.97 L577.32,436.32 L578.33,435.65 L579.35,434.97 L580.36,434.27 L581.38,433.55 L582.39,432.82 L583.41,432.06 L584.43,431.30 L585.44,430.51 L586.46,429.71 L587.47,428.89 L588.49,428.06 L589.50,427.20 L590.52,426.33 L591.53,425.45 L592.55,424.54 L593.56,423.62 L594.58,422.68 L595.60,421.73 L596.61,420.76 L597.63,419.77 L598.64,418.76 L599.66,417.74 L600.67,416.70 L601.69,415.64 L602.70,414.56 L603.72,413.47 L604.73,412.36 L605.75,411.23 L606.77,410.08 L607.78,408.92 L608.80,407.74 L609.81,406.54 L610.83,405.32 L611.84,404.09 L612.86,402.83 L613.87,401.56 L614.89,400.27 L615.90,398.97 L616.92,397.64 L617.94,396.30 L618.95,394.94 L619.97,393.56 L620.98,392.17 L622.00,390.75 L623.01,389.32 L624.03,387.87 L625.04,386.40 L626.06,384.91 L627.07,383.40 L628.09,381.88 L629.11,380.34 L630.12,378.77 L631.14,377.19 L632.15,375.59 L633.17,373.98 L634.18,372.34 L635.20,370.68 L636.21,369.01 L637.23,367.32 L638.24,365.61 L639.26,363.87 L640.27,362.12 L641.29,360.35 L642.31,358.57 L643.32,356.76 L644.34,354.93 L645.35,353.09 L646.37,351.22 L647.38,349.34 L648.40,347.43 L649.41,345.51 L650.43,343.57 L651.44,341.60 L652.46,339.62 L653.48,337.62 L654.49,335.60 L655.51,333.55 L656.52,331.49 L657.54,329.41 L658.55,327.31 L659.57,325.19 L660.58,323.05 L661.60,320.88 L662.61,318.70 L663.63,316.50 L664.65,314.28 L665.66,312.04 L666.68,309.77 L667.69,307.49 L668.71,305.18 L669.72,302.86 L670.74,300.51 L671.75,298.15 L672.77,295.76 L673.78,293.35 L674.80,290.93" fill="none" stroke="#008000" stroke-width="2.8" stroke-dasharray="16,4,2.5,4"/>
<path d="M411.80,293.80 L412.82,298.96 L413.83,303.04 L414.85,306.72 L415.86,310.13 L416.88,313.35 L417.89,316.41 L418.91,319.35 L419.92,322.18 L420.94,324.91 L421.95,327.56 L422.97,330.14 L423.99,332.64 L425.00,335.08 L426.02,337.46 L427.03,339.79 L428.05,342.07 L429.06,344.30 L430.08,346.48 L431.09,348.62 L432.11,350.72 L433.12,352.79 L434.14,354.81 L435.16,356.80 L436.17,358.76 L437.19,360.68 L438.20,362.58 L439.22,364.44 L440.23,366.27 L441.25,368.08 L442.26,369.85 L443.28,371.60 L444.29,373.32 L445.31,375.02 L446.33,376.69 L447.34,378.34 L448.36,379.97 L449.37,381.57 L450.39,383.15 L451.40,384.70 L452.42,386.24 L453.43,387.75 L454.45,389.24 L455.46,390.71 L456.48,392.16 L457.49,393.58 L458.51,394.99 L459.53,396.38 L460.54,397.75 L461.56,399.10 L462.57,400.43 L463.59,401.74 L464.60,403.04 L465.62,404.31 L466.63,405.57 L467.65,406.81 L468.66,408.03 L469.68,409.24 L470.70,410.42 L471.71,411.59 L472.73,412.74 L473.74,413.88 L474.76,415.00 L475.77,416.10 L476.79,417.18 L477.80,418.25 L478.82,419.30 L479.83,420.34 L480.85,421.36 L481.87,422.36 L482.88,423.35 L483.90,424.33 L484.91,425.28 L485.93,426.22 L486.94,427.15 L487.96,428.06 L488.97,428.96 L489.99,429.84 L491.00,430.70 L492.02,431.56 L493.04,432.39 L494.05,433.21 L495.07,434.02 L496.08,434.81 L497.10,435.59 L498.11,436.35 L499.13,437.10 L500.14,437.84 L501.16,438.56 L502.17,439.27 L503.19,439.96 L504.21,440.64 L505.22,441.31 L506.24,441.96 L507.25,442.60 L508.27,443.22 L509.28,443.84 L510.30,444.44 L511.31,445.02 L512.33,445.59 L513.34,446.15 L514.36,446.70 L515.38,447.24 L516.39,447.76 L517.41,448.26 L518.42,448.76 L519.44,449.24 L520.45,449.72 L521.47,450.17 L522.48,450.62 L523.50,451.06 L524.51,451.48 L525.53,451.89 L526.55,452.29 L527.56,452.67 L528.58,453.05 L529.59,453.41 L530.61,453.77 L531.62,454.11 L532.64,454.44 L533.65,454.75 L534.67,455.06 L535.68,455.36 L536.70,455.64 L537.72,455.92 L538.73,456.18 L539.75,456.43 L540.76,456.67 L541.78,456.91 L542.79,457.13 L543.81,457.34 L544.82,457.54 L545.84,457.73 L546.85,457.91 L547.87,458.08 L548.88,458.24 L549.90,458.39 L550.92,458.54 L551.93,458.67 L552.95,458.79 L553.96,458.91 L554.98,459.01 L555.99,459.11 L557.01,459.19 L558.02,459.27 L559.04,459.34 L560.05,459.40 L561.07,459.45 L562.09,459.49 L563.10,459.52 L564.12,459.55 L565.13,459.57 L566.15,459.58 L567.16,459.58 L568.18,459.57 L569.19,459.56 L570.21,459.53 L571.22,459.50 L572.24,459.47 L573.26,459.42 L574.27,459.37 L575.29,459.31 L576.30,459.24 L577.32,459.17 L578.33,459.08 L579.35,458.99 L580.36,458.90 L581.38,458.80 L582.39,458.69 L583.41,458.57 L584.43,458.45 L585.44,458.32 L586.46,458.18 L587.47,458.04 L588.49,457.89 L589.50,457.73 L590.52,457.57 L591.53,457.40 L592.55,457.23 L593.56,457.05 L594.58,456.86 L595.60,456.67 L596.61,456.47 L597.63,456.26 L598.64,456.05 L599.66,455.83 L600.67,455.61 L601.69,455.38 L602.70,455.14 L603.72,454.90 L604.73,454.65 L605.75,454.40 L606.77,454.14 L607.78,453.87 L608.80,453.60 L609.81,453.32 L610.83,453.03 L611.84,452.74 L612.86,452.44 L613.87,452.13 L614.89,451.82 L615.90,451.50 L616.92,451.17 L617.94,450.83 L618.95,450.49 L619.97,450.14 L620.98,449.78 L622.00,449.41 L623.01,449.04 L624.03,448.65 L625.04,448.26 L626.06,447.85 L627.07,447.44 L628.09,447.02 L629.11,446.58 L630.12,446.14 L631.14,445.68 L632.15,445.22 L633.17,444.73 L634.18,444.24 L635.20,443.73 L636.21,443.21 L637.23,442.67 L638.24,442.12 L639.26,441.55 L640.27,440.97 L641.29,440.36 L642.31,439.74 L643.32,439.09 L644.34,438.42 L645.35,437.73 L646.37,437.02 L647.38,436.28 L648.40,435.52 L649.41,434.72 L650.43,433.90 L651.44,433.04 L652.46,432.15 L653.48,431.22 L654.49,430.26 L655.51,429.25 L656.52,428.21 L657.54,427.11 L658.55,425.97 L659.57,424.77 L660.58,423.52 L661.60,422.20 L662.61,420.82 L663.63,419.38 L664.65,417.86 L665.66,416.26 L666.68,414.57 L667.69,412.79 L668.71,410.92 L669.72,408.93 L670.74,406.83 L671.75,404.61 L672.77,402.25 L673.78,399.74 L674.80,397.07" fill="none" stroke="#ff0000" stroke-width="2.8"/>
<path d="M411.80,303.04 L412.82,307.37 L413.83,310.97 L414.85,314.29 L415.86,317.43 L416.88,320.42 L417.89,323.30 L418.91,326.07 L419.92,328.77 L420.94,331.38 L421.95,333.93 L422.97,336.42 L423.99,338.85 L425.00,341.22 L426.02,343.54 L427.03,345.82 L428.05,348.05 L429.06,350.23 L430.08,352.38 L431.09,354.48 L432.11,356.55 L433.12,358.58 L434.14,360.58 L435.16,362.54 L436.17,364.46 L437.19,366.36 L438.20,368.22 L439.22,370.06 L440.23,371.86 L441.25,373.63 L442.26,375.38 L443.28,377.10 L444.29,378.78 L445.31,380.45 L446.33,382.08 L447.34,383.69 L448.36,385.28 L449.37,386.84 L450.39,388.38 L451.40,389.89 L452.42,391.37 L453.43,392.84 L454.45,394.28 L455.46,395.69 L456.48,397.09 L457.49,398.46 L458.51,399.81 L459.53,401.14 L460.54,402.45 L461.56,403.73 L462.57,404.99 L463.59,406.24 L464.60,407.46 L465.62,408.66 L466.63,409.84 L467.65,411.00 L468.66,412.14 L469.68,413.27 L470.70,414.37 L471.71,415.45 L472.73,416.51 L473.74,417.55 L474.76,418.58 L475.77,419.58 L476.79,420.57 L477.80,421.53 L478.82,422.48 L479.83,423.41 L480.85,424.32 L481.87,425.22 L482.88,426.09 L483.90,426.95 L484.91,427.79 L485.93,428.61 L486.94,429.41 L487.96,430.20 L488.97,430.97 L489.99,431.72 L491.00,432.45 L492.02,433.16 L493.04,433.86 L494.05,434.54 L495.07,435.20 L496.08,435.85 L497.10,436.48 L498.11,437.09 L499.13,437.69 L500.14,438.26 L501.16,438.83 L502.17,439.37 L503.19,439.90 L504.21,440.41 L505.22,440.90 L506.24,441.38 L507.25,441.84 L508.27,442.29 L509.28,442.71 L510.30,443.13 L511.31,443.52 L512.33,443.90 L513.34,444.26 L514.36,444.61 L515.38,444.94 L516.39,445.25 L517.41,445.55 L518.42,445.83 L519.44,446.09 L520.45,446.34 L521.47,446.58 L522.48,446.79 L523.50,446.99 L524.51,447.18 L525.53,447.35 L526.55,447.50 L527.56,447.63 L528.58,447.75 L529.59,447.86 L530.61,447.95 L531.62,448.02 L532.64,448.07 L533.65,448.11 L534.67,448.14 L535.68,448.15 L536.70,448.14 L537.72,448.12 L538.73,448.08 L539.75,448.02 L540.76,447.95 L541.78,447.86 L542.79,447.76 L543.81,447.64 L544.82,447.50 L545.84,447.35 L546.85,447.19 L547.87,447.00 L548.88,446.80 L549.90,446.59 L550.92,446.36 L551.93,446.11 L552.95,445.85 L553.96,445.57 L554.98,445.28 L555.99,444.96 L557.01,444.64 L558.02,444.29 L559.04,443.94 L560.05,443.56 L561.07,443.17 L562.09,442.76 L563.10,442.34 L564.12,441.90 L565.13,441.44 L566.15,440.97 L567.16,440.49 L568.18,439.98 L569.19,439.46 L570.21,438.92 L571.22,438.37 L572.24,437.80 L573.26,437.22 L574.27,436.62 L575.29,436.00 L576.30,435.36 L577.32,434.71 L578.33,434.05 L579.35,433.36 L580.36,432.66 L581.38,431.94 L582.39,431.21 L583.41,430.46 L584.43,429.69 L585.44,428.91 L586.46,428.11 L587.47,427.30 L588.49,426.46 L589.50,425.61 L590.52,424.75 L591.53,423.86 L592.55,422.96 L593.56,422.04 L594.58,421.11 L595.60,420.16 L596.61,419.19 L597.63,418.20 L598.64,417.20 L599.66,416.18 L600.67,415.14 L601.69,414.09 L602.70,413.02 L603.72,411.93 L604.73,410.82 L605.75,409.70 L606.77,408.56 L607.78,407.40 L608.80,406.23 L609.81,405.03 L610.83,403.82 L611.84,402.59 L612.86,401.35 L613.87,400.08 L614.89,398.80 L615.90,397.50 L616.92,396.18 L617.94,394.85 L618.95,393.49 L619.97,392.12 L620.98,390.73 L622.00,389.32 L623.01,387.90 L624.03,386.45 L625.04,384.99 L626.06,383.51 L627.07,382.01 L628.09,380.49 L629.11,378.95 L630.12,377.40 L631.14,375.82 L632.15,374.23 L633.17,372.62 L634.18,370.99 L635.20,369.34 L636.21,367.67 L637.23,365.99 L638.24,364.28 L639.26,362.56 L640.27,360.81 L641.29,359.05 L642.31,357.27 L643.32,355.46 L644.34,353.64 L645.35,351.80 L646.37,349.94 L647.38,348.06 L648.40,346.16 L649.41,344.24 L650.43,342.30 L651.44,340.34 L652.46,338.36 L653.48,336.36 L654.49,334.34 L655.51,332.30 L656.52,330.24 L657.54,328.16 L658.55,326.06 L659.57,323.94 L660.58,321.80 L661.60,319.64 L662.61,317.46 L663.63,315.25 L664.65,313.03 L665.66,310.78 L666.68,308.52 L667.69,306.23 L668.71,303.92 L669.72,301.59 L670.74,299.24 L671.75,296.87 L672.77,294.48 L673.78,292.06 L674.80,289.63" fill="none" stroke="#0000ff" stroke-width="2.8" stroke-dasharray="2.5,4.125"/>
<rect x="491.1" y="442.2" width="31.5" height="5.3" fill="#222"/>
<line x1="513.6" y1="446.3" x2="533.2" y2="446.3" stroke="#000" stroke-width="1.8"/>
<rect x="505.10" y="437.60" width="3.8" height="11.20" fill="#000" fill-opacity="0.9"/>
<rect x="501.40" y="441.20" width="11.20" height="4.0" fill="#000" fill-opacity="0.9"/>
<rect x="510.10" y="440.90" width="3.8" height="11.20" fill="#000" fill-opacity="0.9"/>
<rect x="506.40" y="444.50" width="11.20" height="4.0" fill="#000" fill-opacity="0.9"/>
</g>
<rect x="411.8" y="272.7" width="263.00" height="196.00" fill="none" stroke="#000" stroke-width="1.45"/>
<line x1="411.80" y1="468.7" x2="411.80" y2="463.70" stroke="#000" stroke-width="1.45"/>
<text transform="scale(1.0958,1)" x="370.97" y="487.20" font-size="17.40">0</text>
<line x1="464.40" y1="468.7" x2="464.40" y2="463.70" stroke="#000" stroke-width="1.45"/>
<text transform="scale(1.0958,1)" x="414.13 423.81" y="487.20" font-size="17.40">10</text>
<line x1="517.00" y1="468.7" x2="517.00" y2="463.70" stroke="#000" stroke-width="1.45"/>
<text transform="scale(1.0958,1)" x="462.13 471.81" y="487.20" font-size="17.40">20</text>
<line x1="569.60" y1="468.7" x2="569.60" y2="463.70" stroke="#000" stroke-width="1.45"/>
<text transform="scale(1.0958,1)" x="510.14 519.82" y="487.20" font-size="17.40">30</text>
<line x1="622.20" y1="468.7" x2="622.20" y2="463.70" stroke="#000" stroke-width="1.45"/>
<text transform="scale(1.0958,1)" x="558.14 567.82" y="487.20" font-size="17.40">40</text>
<line x1="674.80" y1="468.7" x2="674.80" y2="463.70" stroke="#000" stroke-width="1.45"/>
<text transform="scale(1.0958,1)" x="606.14 615.82" y="487.20" font-size="17.40">50</text>
<line x1="411.8" y1="462.00" x2="416.80" y2="462.00" stroke="#000" stroke-width="1.45"/>
<text transform="scale(1.1782,1)" x="310.75 322.60 331.61 336.10" y="467.80" font-size="17.40">−0.1</text>
<line x1="411.8" y1="407.60" x2="416.80" y2="407.60" stroke="#000" stroke-width="1.45"/>
<text transform="scale(1.0958,1)" x="346.86 356.54 361.37" y="413.40" font-size="17.40">0.0</text>
<line x1="411.8" y1="353.20" x2="416.80" y2="353.20" stroke="#000" stroke-width="1.45"/>
<text transform="scale(1.0958,1)" x="346.86 356.54 361.37" y="359.00" font-size="17.40">0.1</text>
<line x1="411.8" y1="298.80" x2="416.80" y2="298.80" stroke="#000" stroke-width="1.45"/>
<text transform="scale(1.0958,1)" x="346.86 356.54 361.37" y="304.60" font-size="17.40">0.2</text>
<rect x="493.6" y="285.2" width="105.00" height="58.50" fill="#fff" stroke="none"/>
<path d="M493.60,301.08 L494.48,301.95 L495.36,302.83 L496.25,303.69 L497.13,304.55 L498.01,305.41 L498.89,306.26 L499.78,307.10 L500.66,307.94 L501.54,308.77 L502.42,309.59 L503.31,310.41 L504.19,311.23 L505.07,312.03 L505.95,312.84 L506.84,313.63 L507.72,314.42 L508.60,315.21 L509.48,315.99 L510.36,316.76 L511.25,317.53 L512.13,318.29 L513.01,319.05 L513.89,319.81 L514.78,320.55 L515.66,321.30 L516.54,322.03 L517.42,322.76 L518.31,323.49 L519.19,324.21 L520.07,324.93 L520.95,325.64 L521.84,326.35 L522.72,327.05 L523.60,327.75 L524.48,328.44 L525.36,329.12 L526.25,329.81 L527.13,330.48 L528.01,331.16 L528.89,331.83 L529.78,332.49 L530.66,333.15 L531.54,333.80 L532.42,334.45 L533.31,335.10 L534.19,335.74 L535.07,336.38 L535.95,337.01 L536.84,337.64 L537.72,338.26 L538.60,338.88 L539.48,339.49 L540.36,340.10 L541.25,340.71 L542.13,341.31 L543.01,341.91 L543.89,342.51 L544.78,343.10 L545.66,343.68 L546.54,344.27 L547.42,344.84 L548.31,345.42 L549.19,345.99 L550.07,346.56 L550.95,347.12 L551.84,347.68 L552.72,348.24 L553.60,348.79 L554.48,349.34 L555.36,349.89 L556.25,350.43 L557.13,350.97 L558.01,351.50 L558.89,352.03 L559.78,352.56 L560.66,353.09 L561.54,353.61 L562.42,354.13 L563.31,354.64 L564.19,355.16 L565.07,355.67 L565.95,356.17 L566.84,356.68 L567.72,357.18 L568.60,357.67 L569.48,358.17 L570.36,358.66 L571.25,359.15 L572.13,359.63 L573.01,360.12 L573.89,360.60 L574.78,361.08 L575.66,361.55 L576.54,362.02 L577.42,362.49 L578.31,362.96 L579.19,363.43 L580.07,363.89 L580.95,364.35 L581.84,364.81 L582.72,365.26 L583.60,365.71 L584.48,366.16 L585.36,366.61 L586.25,367.06 L587.13,367.50 L588.01,367.95 L588.89,368.39 L589.78,368.82 L590.66,369.26 L591.54,369.69 L592.42,370.13 L593.31,370.56 L594.19,370.98 L595.07,371.41 L595.95,371.83 L596.84,372.26 L597.72,372.68 L598.60,373.10" fill="none" stroke="#bf00bf" stroke-width="2.2" stroke-opacity="0.5" clip-path="url(#clipI)"/>
<path d="M493.60,296.72 L494.48,297.65 L495.36,298.58 L496.25,299.49 L497.13,300.40 L498.01,301.31 L498.89,302.20 L499.78,303.10 L500.66,303.98 L501.54,304.86 L502.42,305.74 L503.31,306.61 L504.19,307.47 L505.07,308.33 L505.95,309.18 L506.84,310.03 L507.72,310.87 L508.60,311.70 L509.48,312.53 L510.36,313.36 L511.25,314.17 L512.13,314.99 L513.01,315.79 L513.89,316.60 L514.78,317.39 L515.66,318.18 L516.54,318.97 L517.42,319.75 L518.31,320.53 L519.19,321.30 L520.07,322.06 L520.95,322.82 L521.84,323.58 L522.72,324.33 L523.60,325.07 L524.48,325.81 L525.36,326.55 L526.25,327.28 L527.13,328.00 L528.01,328.72 L528.89,329.44 L529.78,330.15 L530.66,330.85 L531.54,331.55 L532.42,332.25 L533.31,332.94 L534.19,333.63 L535.07,334.31 L535.95,334.99 L536.84,335.66 L537.72,336.33 L538.60,336.99 L539.48,337.65 L540.36,338.30 L541.25,338.95 L542.13,339.60 L543.01,340.24 L543.89,340.88 L544.78,341.51 L545.66,342.14 L546.54,342.76 L547.42,343.38 L548.31,344.00 L549.19,344.61 L550.07,345.22 L550.95,345.82 L551.84,346.42 L552.72,347.01 L553.60,347.61 L554.48,348.19 L555.36,348.78 L556.25,349.36 L557.13,349.93 L558.01,350.50 L558.89,351.07 L559.78,351.63 L560.66,352.19 L561.54,352.75 L562.42,353.30 L563.31,353.85 L564.19,354.40 L565.07,354.94 L565.95,355.48 L566.84,356.01 L567.72,356.55 L568.60,357.07 L569.48,357.60 L570.36,358.12 L571.25,358.64 L572.13,359.15 L573.01,359.66 L573.89,360.17 L574.78,360.67 L575.66,361.18 L576.54,361.67 L577.42,362.17 L578.31,362.66 L579.19,363.15 L580.07,363.63 L580.95,364.12 L581.84,364.60 L582.72,365.07 L583.60,365.55 L584.48,366.02 L585.36,366.48 L586.25,366.95 L587.13,367.41 L588.01,367.87 L588.89,368.33 L589.78,368.78 L590.66,369.23 L591.54,369.68 L592.42,370.13 L593.31,370.57 L594.19,371.01 L595.07,371.45 L595.95,371.88 L596.84,372.32 L597.72,372.75 L598.60,373.18" fill="none" stroke="#008000" stroke-width="2.2" stroke-opacity="0.5" clip-path="url(#clipI)"/>
<path d="M493.60,290.58 L494.48,291.56 L495.36,292.54 L496.25,293.50 L497.13,294.46 L498.01,295.41 L498.89,296.35 L499.78,297.29 L500.66,298.22 L501.54,299.14 L502.42,300.05 L503.31,300.96 L504.19,301.86 L505.07,302.75 L505.95,303.64 L506.84,304.52 L507.72,305.39 L508.60,306.26 L509.48,307.12 L510.36,307.97 L511.25,308.82 L512.13,309.66 L513.01,310.49 L513.89,311.32 L514.78,312.14 L515.66,312.96 L516.54,313.76 L517.42,314.57 L518.31,315.36 L519.19,316.15 L520.07,316.94 L520.95,317.71 L521.84,318.49 L522.72,319.25 L523.60,320.01 L524.48,320.77 L525.36,321.52 L526.25,322.26 L527.13,323.00 L528.01,323.73 L528.89,324.46 L529.78,325.18 L530.66,325.90 L531.54,326.61 L532.42,327.32 L533.31,328.02 L534.19,328.71 L535.07,329.41 L535.95,330.09 L536.84,330.77 L537.72,331.45 L538.60,332.12 L539.48,332.79 L540.36,333.45 L541.25,334.10 L542.13,334.76 L543.01,335.41 L543.89,336.05 L544.78,336.69 L545.66,337.32 L546.54,337.95 L547.42,338.58 L548.31,339.20 L549.19,339.82 L550.07,340.43 L550.95,341.04 L551.84,341.65 L552.72,342.25 L553.60,342.85 L554.48,343.44 L555.36,344.03 L556.25,344.61 L557.13,345.20 L558.01,345.78 L558.89,346.35 L559.78,346.92 L560.66,347.49 L561.54,348.06 L562.42,348.62 L563.31,349.18 L564.19,349.73 L565.07,350.28 L565.95,350.83 L566.84,351.38 L567.72,351.92 L568.60,352.46 L569.48,353.00 L570.36,353.53 L571.25,354.06 L572.13,354.59 L573.01,355.12 L573.89,355.64 L574.78,356.16 L575.66,356.68 L576.54,357.19 L577.42,357.71 L578.31,358.22 L579.19,358.73 L580.07,359.23 L580.95,359.74 L581.84,360.24 L582.72,360.74 L583.60,361.24 L584.48,361.73 L585.36,362.23 L586.25,362.72 L587.13,363.21 L588.01,363.70 L588.89,364.19 L589.78,364.67 L590.66,365.15 L591.54,365.64 L592.42,366.12 L593.31,366.60 L594.19,367.07 L595.07,367.55 L595.95,368.03 L596.84,368.50 L597.72,368.97 L598.60,369.44" fill="none" stroke="#0000ff" stroke-width="2.2" stroke-opacity="0.5" clip-path="url(#clipI)"/>
<path d="M493.60,301.08 L494.48,301.95 L495.36,302.83 L496.25,303.69 L497.13,304.55 L498.01,305.41 L498.89,306.26 L499.78,307.10 L500.66,307.94 L501.54,308.77 L502.42,309.59 L503.31,310.41 L504.19,311.23 L505.07,312.03 L505.95,312.84 L506.84,313.63 L507.72,314.42 L508.60,315.21 L509.48,315.99 L510.36,316.76 L511.25,317.53 L512.13,318.29 L513.01,319.05 L513.89,319.81 L514.78,320.55 L515.66,321.30 L516.54,322.03 L517.42,322.76 L518.31,323.49 L519.19,324.21 L520.07,324.93 L520.95,325.64 L521.84,326.35 L522.72,327.05 L523.60,327.75 L524.48,328.44 L525.36,329.12 L526.25,329.81 L527.13,330.48 L528.01,331.16 L528.89,331.83 L529.78,332.49 L530.66,333.15 L531.54,333.80 L532.42,334.45 L533.31,335.10 L534.19,335.74 L535.07,336.38 L535.95,337.01 L536.84,337.64 L537.72,338.26 L538.60,338.88 L539.48,339.49 L540.36,340.10 L541.25,340.71 L542.13,341.31 L543.01,341.91 L543.89,342.51 L544.78,343.10 L545.66,343.68 L546.54,344.27 L547.42,344.84 L548.31,345.42 L549.19,345.99 L550.07,346.56 L550.95,347.12 L551.84,347.68 L552.72,348.24 L553.60,348.79 L554.48,349.34 L555.36,349.89 L556.25,350.43 L557.13,350.97 L558.01,351.50 L558.89,352.03 L559.78,352.56 L560.66,353.09 L561.54,353.61 L562.42,354.13 L563.31,354.64 L564.19,355.16 L565.07,355.67 L565.95,356.17 L566.84,356.68 L567.72,357.18 L568.60,357.67 L569.48,358.17 L570.36,358.66 L571.25,359.15 L572.13,359.63 L573.01,360.12 L573.89,360.60 L574.78,361.08 L575.66,361.55 L576.54,362.02 L577.42,362.49 L578.31,362.96 L579.19,363.43 L580.07,363.89 L580.95,364.35 L581.84,364.81 L582.72,365.26 L583.60,365.71 L584.48,366.16 L585.36,366.61 L586.25,367.06 L587.13,367.50 L588.01,367.95 L588.89,368.39 L589.78,368.82 L590.66,369.26 L591.54,369.69 L592.42,370.13 L593.31,370.56 L594.19,370.98 L595.07,371.41 L595.95,371.83 L596.84,372.26 L597.72,372.68 L598.60,373.10" fill="none" stroke="#bf00bf" stroke-width="2.8" stroke-dasharray="9.25,4.0" clip-path="url(#clipI)"/>
<path d="M493.60,296.72 L494.48,297.65 L495.36,298.58 L496.25,299.49 L497.13,300.40 L498.01,301.31 L498.89,302.20 L499.78,303.10 L500.66,303.98 L501.54,304.86 L502.42,305.74 L503.31,306.61 L504.19,307.47 L505.07,308.33 L505.95,309.18 L506.84,310.03 L507.72,310.87 L508.60,311.70 L509.48,312.53 L510.36,313.36 L511.25,314.17 L512.13,314.99 L513.01,315.79 L513.89,316.60 L514.78,317.39 L515.66,318.18 L516.54,318.97 L517.42,319.75 L518.31,320.53 L519.19,321.30 L520.07,322.06 L520.95,322.82 L521.84,323.58 L522.72,324.33 L523.60,325.07 L524.48,325.81 L525.36,326.55 L526.25,327.28 L527.13,328.00 L528.01,328.72 L528.89,329.44 L529.78,330.15 L530.66,330.85 L531.54,331.55 L532.42,332.25 L533.31,332.94 L534.19,333.63 L535.07,334.31 L535.95,334.99 L536.84,335.66 L537.72,336.33 L538.60,336.99 L539.48,337.65 L540.36,338.30 L541.25,338.95 L542.13,339.60 L543.01,340.24 L543.89,340.88 L544.78,341.51 L545.66,342.14 L546.54,342.76 L547.42,343.38 L548.31,344.00 L549.19,344.61 L550.07,345.22 L550.95,345.82 L551.84,346.42 L552.72,347.01 L553.60,347.61 L554.48,348.19 L555.36,348.78 L556.25,349.36 L557.13,349.93 L558.01,350.50 L558.89,351.07 L559.78,351.63 L560.66,352.19 L561.54,352.75 L562.42,353.30 L563.31,353.85 L564.19,354.40 L565.07,354.94 L565.95,355.48 L566.84,356.01 L567.72,356.55 L568.60,357.07 L569.48,357.60 L570.36,358.12 L571.25,358.64 L572.13,359.15 L573.01,359.66 L573.89,360.17 L574.78,360.67 L575.66,361.18 L576.54,361.67 L577.42,362.17 L578.31,362.66 L579.19,363.15 L580.07,363.63 L580.95,364.12 L581.84,364.60 L582.72,365.07 L583.60,365.55 L584.48,366.02 L585.36,366.48 L586.25,366.95 L587.13,367.41 L588.01,367.87 L588.89,368.33 L589.78,368.78 L590.66,369.23 L591.54,369.68 L592.42,370.13 L593.31,370.57 L594.19,371.01 L595.07,371.45 L595.95,371.88 L596.84,372.32 L597.72,372.75 L598.60,373.18" fill="none" stroke="#008000" stroke-width="2.8" stroke-dasharray="16,4,2.5,4" clip-path="url(#clipI)"/>
<path d="M493.60,284.65 L494.48,285.56 L495.36,286.47 L496.25,287.38 L497.13,288.28 L498.01,289.17 L498.89,290.06 L499.78,290.94 L500.66,291.82 L501.54,292.70 L502.42,293.57 L503.31,294.43 L504.19,295.29 L505.07,296.14 L505.95,296.99 L506.84,297.83 L507.72,298.67 L508.60,299.51 L509.48,300.33 L510.36,301.16 L511.25,301.98 L512.13,302.79 L513.01,303.60 L513.89,304.41 L514.78,305.21 L515.66,306.00 L516.54,306.79 L517.42,307.58 L518.31,308.36 L519.19,309.14 L520.07,309.91 L520.95,310.68 L521.84,311.44 L522.72,312.20 L523.60,312.95 L524.48,313.70 L525.36,314.45 L526.25,315.19 L527.13,315.93 L528.01,316.66 L528.89,317.39 L529.78,318.11 L530.66,318.83 L531.54,319.55 L532.42,320.26 L533.31,320.97 L534.19,321.67 L535.07,322.37 L535.95,323.06 L536.84,323.76 L537.72,324.44 L538.60,325.13 L539.48,325.81 L540.36,326.48 L541.25,327.15 L542.13,327.82 L543.01,328.48 L543.89,329.14 L544.78,329.80 L545.66,330.45 L546.54,331.10 L547.42,331.74 L548.31,332.39 L549.19,333.02 L550.07,333.66 L550.95,334.29 L551.84,334.91 L552.72,335.54 L553.60,336.16 L554.48,336.77 L555.36,337.39 L556.25,337.99 L557.13,338.60 L558.01,339.20 L558.89,339.80 L559.78,340.40 L560.66,340.99 L561.54,341.58 L562.42,342.17 L563.31,342.75 L564.19,343.33 L565.07,343.91 L565.95,344.48 L566.84,345.05 L567.72,345.62 L568.60,346.18 L569.48,346.74 L570.36,347.30 L571.25,347.86 L572.13,348.41 L573.01,348.96 L573.89,349.50 L574.78,350.05 L575.66,350.59 L576.54,351.13 L577.42,351.66 L578.31,352.19 L579.19,352.72 L580.07,353.25 L580.95,353.78 L581.84,354.30 L582.72,354.82 L583.60,355.33 L584.48,355.85 L585.36,356.36 L586.25,356.87 L587.13,357.38 L588.01,357.88 L588.89,358.38 L589.78,358.88 L590.66,359.38 L591.54,359.87 L592.42,360.37 L593.31,360.86 L594.19,361.34 L595.07,361.83 L595.95,362.31 L596.84,362.79 L597.72,363.27 L598.60,363.75" fill="none" stroke="#ff0000" stroke-width="2.8" clip-path="url(#clipI)"/>
<path d="M493.60,290.58 L494.48,291.56 L495.36,292.54 L496.25,293.50 L497.13,294.46 L498.01,295.41 L498.89,296.35 L499.78,297.29 L500.66,298.22 L501.54,299.14 L502.42,300.05 L503.31,300.96 L504.19,301.86 L505.07,302.75 L505.95,303.64 L506.84,304.52 L507.72,305.39 L508.60,306.26 L509.48,307.12 L510.36,307.97 L511.25,308.82 L512.13,309.66 L513.01,310.49 L513.89,311.32 L514.78,312.14 L515.66,312.96 L516.54,313.76 L517.42,314.57 L518.31,315.36 L519.19,316.15 L520.07,316.94 L520.95,317.71 L521.84,318.49 L522.72,319.25 L523.60,320.01 L524.48,320.77 L525.36,321.52 L526.25,322.26 L527.13,323.00 L528.01,323.73 L528.89,324.46 L529.78,325.18 L530.66,325.90 L531.54,326.61 L532.42,327.32 L533.31,328.02 L534.19,328.71 L535.07,329.41 L535.95,330.09 L536.84,330.77 L537.72,331.45 L538.60,332.12 L539.48,332.79 L540.36,333.45 L541.25,334.10 L542.13,334.76 L543.01,335.41 L543.89,336.05 L544.78,336.69 L545.66,337.32 L546.54,337.95 L547.42,338.58 L548.31,339.20 L549.19,339.82 L550.07,340.43 L550.95,341.04 L551.84,341.65 L552.72,342.25 L553.60,342.85 L554.48,343.44 L555.36,344.03 L556.25,344.61 L557.13,345.20 L558.01,345.78 L558.89,346.35 L559.78,346.92 L560.66,347.49 L561.54,348.06 L562.42,348.62 L563.31,349.18 L564.19,349.73 L565.07,350.28 L565.95,350.83 L566.84,351.38 L567.72,351.92 L568.60,352.46 L569.48,353.00 L570.36,353.53 L571.25,354.06 L572.13,354.59 L573.01,355.12 L573.89,355.64 L574.78,356.16 L575.66,356.68 L576.54,357.19 L577.42,357.71 L578.31,358.22 L579.19,358.73 L580.07,359.23 L580.95,359.74 L581.84,360.24 L582.72,360.74 L583.60,361.24 L584.48,361.73 L585.36,362.23 L586.25,362.72 L587.13,363.21 L588.01,363.70 L588.89,364.19 L589.78,364.67 L590.66,365.15 L591.54,365.64 L592.42,366.12 L593.31,366.60 L594.19,367.07 L595.07,367.55 L595.95,368.03 L596.84,368.50 L597.72,368.97 L598.60,369.44" fill="none" stroke="#0000ff" stroke-width="2.8" stroke-dasharray="2.5,4.125" clip-path="url(#clipI)"/>
<rect x="493.6" y="285.2" width="105.00" height="58.50" fill="none" stroke="#000" stroke-width="1.45"/>
<line x1="493.60" y1="343.7" x2="493.60" y2="348.70" stroke="#000" stroke-width="1.45"/>
<text transform="scale(1.0958,1)" x="445.62" y="368.10" font-size="17.40">0</text>
<line x1="511.10" y1="343.7" x2="511.10" y2="348.70" stroke="#000" stroke-width="1.45"/>
<text transform="scale(1.0958,1)" x="461.59" y="368.10" font-size="17.40">1</text>
<line x1="528.60" y1="343.7" x2="528.60" y2="348.70" stroke="#000" stroke-width="1.45"/>
<text transform="scale(1.0958,1)" x="477.56" y="368.10" font-size="17.40">2</text>
<line x1="546.10" y1="343.7" x2="546.10" y2="348.70" stroke="#000" stroke-width="1.45"/>
<text transform="scale(1.0958,1)" x="493.53" y="368.10" font-size="17.40">3</text>
<line x1="563.60" y1="343.7" x2="563.60" y2="348.70" stroke="#000" stroke-width="1.45"/>
<text transform="scale(1.0958,1)" x="509.50" y="368.10" font-size="17.40">4</text>
<line x1="581.10" y1="343.7" x2="581.10" y2="348.70" stroke="#000" stroke-width="1.45"/>
<text transform="scale(1.0958,1)" x="525.47" y="368.10" font-size="17.40">5</text>
<line x1="598.60" y1="343.7" x2="598.60" y2="348.70" stroke="#000" stroke-width="1.45"/>
<text transform="scale(1.0958,1)" x="541.44" y="368.10" font-size="17.40">6</text>
<line x1="488.60" y1="343.70" x2="493.6" y2="343.70" stroke="#000" stroke-width="1.45"/>
<text transform="scale(1.0958,1)" x="415.03 424.71 429.54" y="349.50" font-size="17.40">0.1</text>
<line x1="488.60" y1="285.20" x2="493.6" y2="285.20" stroke="#000" stroke-width="1.45"/>
<text transform="scale(1.0958,1)" x="415.03 424.71 429.54" y="291.00" font-size="17.40">0.2</text>
<g transform="translate(446.0,314.4) rotate(-90)">
<text transform="scale(1.1046,1)" x="-36.38 -26.63 -21.72 -13.98 -5.37 -1.13 6.58 11.51 19.21 31.47" y="0.00" font-size="14.39">G[eV/atom]</text>
</g>
<text x="518.3" y="389.6" font-size="14.18">c</text>
<text x="525.9" y="392.6" font-size="10.21" textLength="9.13" lengthAdjust="spacingAndGlyphs">Si</text>
<text transform="scale(1.1598,1)" x="463.54 468.22 475.56 480.26 491.65" y="389.60" font-size="14.39">[at%]</text>
<rect x="220.10" y="23.20" width="61.80" height="27.30" fill="#fff" stroke="#000" stroke-width="1.45"/>
<text transform="scale(1.0442,1)" x="217.11 226.43 235.76 245.08 254.40" y="41.10" font-size="16.22">6000K</text>
<rect x="594.10" y="23.20" width="61.80" height="27.30" fill="#fff" stroke="#000" stroke-width="1.45"/>
<text transform="scale(1.0442,1)" x="575.27 584.59 593.91 603.23 612.56" y="41.10" font-size="16.22">6000K</text>
<rect x="252.20" y="278.10" width="61.80" height="27.30" fill="#fff" stroke="#000" stroke-width="1.45"/>
<text transform="scale(1.0442,1)" x="247.85 257.17 266.50 275.82 285.14" y="296.00" font-size="16.22">6200K</text>
<rect x="602.20" y="278.10" width="61.80" height="27.30" fill="#fff" stroke="#000" stroke-width="1.45"/>
<text transform="scale(1.0442,1)" x="583.03 592.35 601.67 610.99 620.31" y="296.00" font-size="16.22">6400K</text>
<text transform="scale(1.1009,1)" x="96.56 106.33 110.61 115.50 123.97 133.39 143.15 151.61 161.08 170.84 176.88 183.21 192.64 198.68 202.96 212.38 222.14 227.03 233.04 242.47 248.51 263.14" y="255.20" font-size="17.54">Si concentration (at%)</text>
<text transform="scale(1.1009,1)" x="407.22 416.99 421.27 426.16 434.63 444.05 453.80 462.27 471.74 481.50 487.54 493.87 503.30 509.34 513.62 523.04 532.80 537.69 543.70 553.13 559.17 573.80" y="255.20" font-size="17.54">Si concentration (at%)</text>
<text transform="scale(1.1009,1)" x="96.56 106.33 110.61 115.50 123.97 133.39 143.15 151.61 161.08 170.84 176.88 183.21 192.64 198.68 202.96 212.38 222.14 227.03 233.04 242.47 248.51 263.14" y="510.10" font-size="17.54">Si concentration (at%)</text>
<text transform="scale(1.1009,1)" x="407.22 416.99 421.27 426.16 434.63 444.05 453.80 462.27 471.74 481.50 487.54 493.87 503.30 509.34 513.62 523.04 532.80 537.69 543.70 553.13 559.17 573.80" y="510.10" font-size="17.54">Si concentration (at%)</text>
<g transform="translate(29.0,116.4) rotate(-90)">
<text transform="scale(1.1229,1)" x="-53.59 -43.26 -33.66 -28.86 -22.97 -10.33 -0.72 8.88 18.48 28.09 37.37 47.70" y="0.00" font-size="17.54">Δμ [+3844eV]</text>
</g>
<g transform="translate(369.9,115.4) rotate(-90)">
<text transform="scale(1.1047,1)" x="-46.80 -34.91 -30.03 -24.05 -14.61 -4.11 1.06 10.46 16.48 25.87 40.81" y="0.00" font-size="17.54">G [eV/atom]</text>
</g>
<g transform="translate(13.2,370.7) rotate(-90)">
<text transform="scale(1.1047,1)" x="-46.80 -34.91 -30.03 -24.05 -14.61 -4.11 1.06 10.46 16.48 25.87 40.81" y="0.00" font-size="17.54">G [eV/atom]</text>
</g>
<g transform="translate(355.6,370.7) rotate(-90)">
<text transform="scale(1.1047,1)" x="-46.80 -34.91 -30.03 -24.05 -14.61 -4.11 1.06 10.46 16.48 25.87 40.81" y="0.00" font-size="17.54">G [eV/atom]</text>
</g>
<text transform="scale(1.1013,1)" x="25.42 31.33 40.61" y="12.60" font-size="17.25">(a)</text>
<text transform="scale(1.1186,1)" x="316.45 322.27 331.73" y="12.60" font-size="17.25">(b)</text>
<text transform="scale(1.1021,1)" x="24.86 30.76 39.08" y="267.60" font-size="17.25">(c)</text>
<text transform="scale(1.1186,1)" x="316.54 322.36 331.82" y="267.60" font-size="17.25">(d)</text>
</svg>
</body></html>
